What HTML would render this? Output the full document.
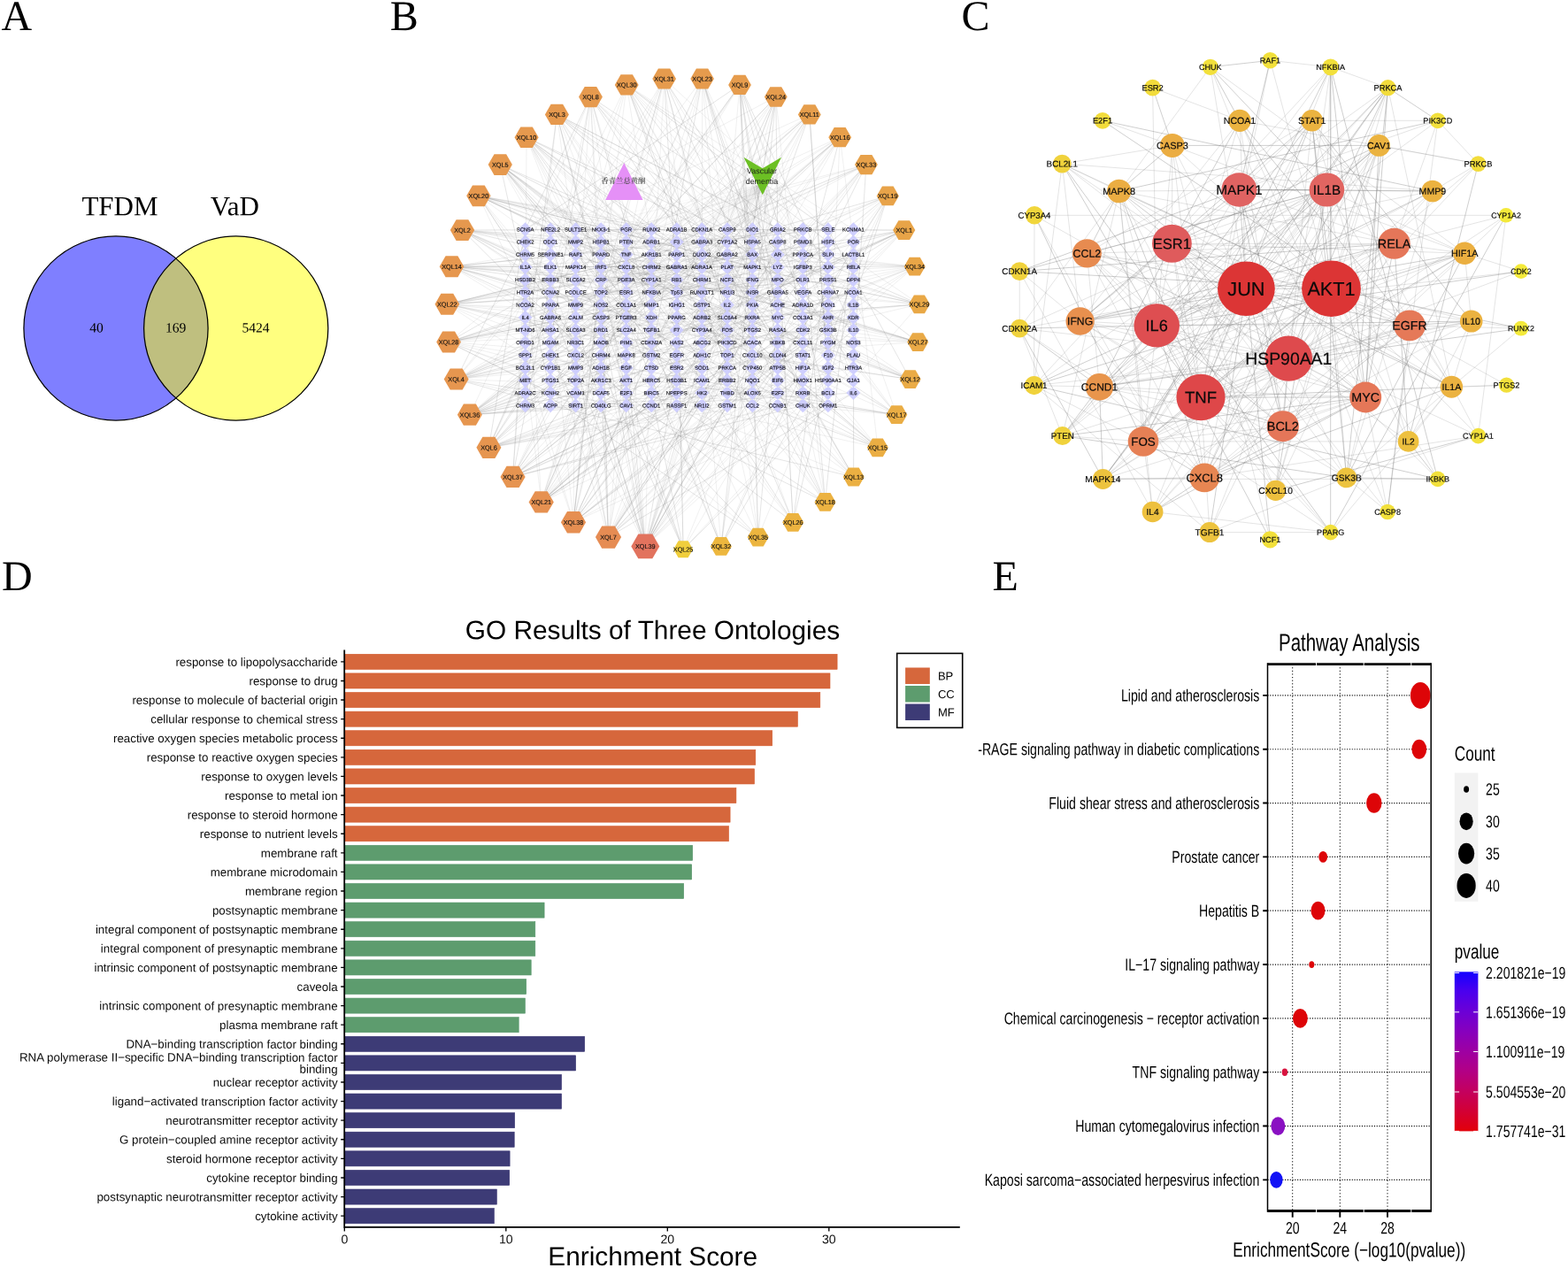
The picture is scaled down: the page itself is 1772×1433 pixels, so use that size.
<!DOCTYPE html>
<html lang="en"><head><meta charset="utf-8"><title>Figure</title>
<style>html,body{margin:0;padding:0;background:#fff}body{width:1772px;height:1433px;overflow:hidden}svg{display:block}text{white-space:pre}</style></head>
<body>
<svg width="1772" height="1433" viewBox="0 0 1772 1433">
<rect width="1772" height="1433" fill="#fff"/>
<g id="venn">
<circle cx="131" cy="371" r="104.1" fill="#0000ff" fill-opacity="0.5" stroke="none"/>
<circle cx="266.7" cy="371" r="104.1" fill="#ffff00" fill-opacity="0.5" stroke="none"/>
<circle cx="131" cy="371" r="104.1" fill="none" stroke="#000" stroke-width="1.25"/>
<circle cx="266.7" cy="371" r="104.1" fill="none" stroke="#000" stroke-width="1.25"/>
<g font-family='"Liberation Serif", "Noto Serif CJK SC", serif' fill="#000" text-anchor="middle">
<text transform="rotate(0.04 135.5 243.3)" x="135.5" y="243.3" font-size="31">TFDM</text>
<text transform="rotate(0.04 265.3 243.3)" x="265.3" y="243.3" font-size="31">VaD</text>
<text transform="rotate(0.04 109 375.5)" x="109" y="375.5" font-size="15.6">40</text>
<text transform="rotate(0.04 198.7 375.5)" x="198.7" y="375.5" font-size="15.6">169</text>
<text transform="rotate(0.04 289 375.5)" x="289" y="375.5" font-size="15.6">5424</text>
</g></g>
<g id="netB">
<path fill="none" stroke="#909090" stroke-opacity="0.07" stroke-width="0.7" d="M861.8 208.0L622.1 259.3M861.8 208.0L650.6 259.3M861.8 208.0L736.2 259.3M861.8 208.0L764.7 259.3M861.8 208.0L821.8 259.3M861.8 208.0L907.3 259.3M861.8 208.0L935.8 259.3M861.8 208.0L964.4 259.3M861.8 208.0L593.6 273.5M861.8 208.0L650.6 273.5M861.8 208.0L679.2 273.5M861.8 208.0L707.7 273.5M861.8 208.0L764.7 273.5M861.8 208.0L821.8 273.5M861.8 208.0L907.3 273.5M861.8 208.0L622.1 287.7M861.8 208.0L736.2 287.7M861.8 208.0L764.7 287.7M861.8 208.0L793.2 287.7M861.8 208.0L821.8 287.7M861.8 208.0L850.3 287.7M861.8 208.0L878.8 287.7M861.8 208.0L907.3 287.7M861.8 208.0L593.6 301.9M861.8 208.0L650.6 301.9M861.8 208.0L850.3 301.9M861.8 208.0L878.8 301.9M861.8 208.0L935.8 301.9M861.8 208.0L964.4 301.9M861.8 208.0L593.6 316.2M861.8 208.0L622.1 316.2M861.8 208.0L679.2 316.2M861.8 208.0L707.7 316.2M861.8 208.0L764.7 316.2M861.8 208.0L850.3 316.2M861.8 208.0L878.8 316.2M861.8 208.0L907.3 316.2M861.8 208.0L935.8 316.2M861.8 208.0L593.6 330.4M861.8 208.0L622.1 330.4M861.8 208.0L707.7 330.4M861.8 208.0L736.2 330.4M861.8 208.0L764.7 330.4M861.8 208.0L821.8 330.4M861.8 208.0L907.3 330.4M861.8 208.0L707.7 344.6M861.8 208.0L736.2 344.6M861.8 208.0L764.7 344.6M861.8 208.0L793.2 344.6M861.8 208.0L821.8 344.6M861.8 208.0L850.3 344.6M861.8 208.0L878.8 344.6M861.8 208.0L935.8 344.6M861.8 208.0L622.1 358.8M861.8 208.0L650.6 358.8M861.8 208.0L764.7 358.8M861.8 208.0L850.3 358.8M861.8 208.0L964.4 358.8M861.8 208.0L622.1 373.0M861.8 208.0L650.6 373.0M861.8 208.0L707.7 373.0M861.8 208.0L764.7 373.0M861.8 208.0L821.8 373.0M861.8 208.0L878.8 373.0M861.8 208.0L593.6 387.2M861.8 208.0L622.1 387.2M861.8 208.0L793.2 387.2M861.8 208.0L878.8 387.2M861.8 208.0L935.8 387.2M861.8 208.0L622.1 401.5M861.8 208.0L650.6 401.5M861.8 208.0L707.7 401.5M861.8 208.0L736.2 401.5M861.8 208.0L793.2 401.5M861.8 208.0L964.4 401.5M861.8 208.0L622.1 415.7M861.8 208.0L650.6 415.7M861.8 208.0L707.7 415.7M861.8 208.0L793.2 415.7M861.8 208.0L878.8 415.7M861.8 208.0L907.3 415.7M861.8 208.0L935.8 415.7M861.8 208.0L593.6 429.9M861.8 208.0L679.2 429.9M861.8 208.0L707.7 429.9M861.8 208.0L764.7 429.9M861.8 208.0L793.2 429.9M861.8 208.0L821.8 429.9M861.8 208.0L907.3 429.9M861.8 208.0L707.7 444.1M861.8 208.0L736.2 444.1M861.8 208.0L764.7 444.1M861.8 208.0L793.2 444.1M861.8 208.0L907.3 444.1M861.8 208.0L593.6 458.3M861.8 208.0L622.1 458.3M861.8 208.0L707.7 458.3M861.8 208.0L736.2 458.3M861.8 208.0L764.7 458.3M861.8 208.0L793.2 458.3M861.8 208.0L850.3 458.3"/>
<path fill="none" stroke="#888888" stroke-opacity="0.19" stroke-width="0.7" d="M729.3 617.4L878.8 287.7M729.3 617.4L935.8 415.7M729.3 617.4L935.8 259.3M729.3 617.4L707.7 273.5M729.3 617.4L907.3 387.2M729.3 617.4L850.3 344.6M729.3 617.4L850.3 401.5M729.3 617.4L679.2 387.2M729.3 617.4L935.8 301.9M729.3 617.4L850.3 259.3M729.3 617.4L821.8 273.5M729.3 617.4L964.4 358.8M729.3 617.4L679.2 273.5M729.3 617.4L736.2 316.2M729.3 617.4L850.3 273.5M729.3 617.4L622.1 401.5M729.3 617.4L878.8 358.8M729.3 617.4L679.2 287.7M729.3 617.4L622.1 316.2M729.3 617.4L793.2 415.7M729.3 617.4L707.7 444.1M729.3 617.4L935.8 429.9M729.3 617.4L878.8 458.3M687.5 607.1L878.8 287.7M687.5 607.1L850.3 358.8M687.5 607.1L878.8 259.3M687.5 607.1L736.2 273.5M687.5 607.1L764.7 401.5M687.5 607.1L679.2 344.6M687.5 607.1L736.2 344.6M687.5 607.1L935.8 401.5M687.5 607.1L622.1 387.2M687.5 607.1L707.7 373.0M687.5 607.1L850.3 273.5M687.5 607.1L964.4 316.2M687.5 607.1L850.3 373.0M687.5 607.1L878.8 429.9M687.5 607.1L650.6 429.9M648.0 590.3L935.8 358.8M648.0 590.3L593.6 401.5M648.0 590.3L622.1 330.4M648.0 590.3L935.8 429.9M648.0 590.3L764.7 429.9M648.0 590.3L878.8 287.7M648.0 590.3L593.6 429.9M648.0 590.3L964.4 444.1M648.0 590.3L679.2 259.3M648.0 590.3L878.8 401.5M648.0 590.3L707.7 301.9M648.0 590.3L907.3 316.2M648.0 590.3L650.6 330.4M611.7 567.4L679.2 344.6M611.7 567.4L964.4 401.5M611.7 567.4L964.4 259.3M611.7 567.4L593.6 259.3M611.7 567.4L736.2 401.5M611.7 567.4L878.8 287.7M611.7 567.4L850.3 344.6M611.7 567.4L764.7 259.3M611.7 567.4L707.7 273.5M611.7 567.4L650.6 458.3M611.7 567.4L821.8 316.2M611.7 567.4L593.6 415.7M579.5 539.0L850.3 344.6M579.5 539.0L593.6 301.9M579.5 539.0L878.8 387.2M579.5 539.0L935.8 387.2M579.5 539.0L650.6 387.2M579.5 539.0L650.6 415.7M579.5 539.0L736.2 458.3M579.5 539.0L935.8 444.1M579.5 539.0L793.2 301.9M579.5 539.0L878.8 458.3M579.5 539.0L736.2 316.2M552.4 505.8L964.4 415.7M552.4 505.8L821.8 458.3M552.4 505.8L878.8 415.7M552.4 505.8L622.1 429.9M552.4 505.8L650.6 287.7M552.4 505.8L622.1 358.8M552.4 505.8L878.8 444.1M552.4 505.8L850.3 301.9M552.4 505.8L964.4 358.8M552.4 505.8L764.7 458.3M552.4 505.8L821.8 415.7M552.4 505.8L850.3 458.3M530.9 468.7L793.2 301.9M530.9 468.7L821.8 316.2M530.9 468.7L707.7 330.4M530.9 468.7L650.6 387.2M530.9 468.7L878.8 316.2M530.9 468.7L964.4 387.2M530.9 468.7L736.2 287.7M530.9 468.7L622.1 273.5M530.9 468.7L764.7 344.6M515.6 428.6L650.6 458.3M515.6 428.6L964.4 273.5M515.6 428.6L679.2 401.5M515.6 428.6L793.2 316.2M515.6 428.6L764.7 301.9M515.6 428.6L593.6 330.4M515.6 428.6L679.2 373.0M515.6 428.6L793.2 259.3M515.6 428.6L935.8 444.1M515.6 428.6L650.6 273.5M515.6 428.6L622.1 373.0M515.6 428.6L650.6 415.7M507.0 386.6L679.2 429.9M507.0 386.6L707.7 458.3M507.0 386.6L907.3 287.7M507.0 386.6L622.1 444.1M507.0 386.6L878.8 415.7M507.0 386.6L622.1 429.9M507.0 386.6L850.3 344.6M507.0 386.6L821.8 287.7M507.0 386.6L821.8 316.2M507.0 386.6L793.2 373.0M507.0 386.6L593.6 316.2M507.0 386.6L850.3 444.1M507.0 386.6L679.2 358.8M505.3 343.8L736.2 458.3M505.3 343.8L650.6 316.2M505.3 343.8L935.8 273.5M505.3 343.8L907.3 316.2M505.3 343.8L878.8 259.3M505.3 343.8L679.2 458.3M505.3 343.8L707.7 301.9M505.3 343.8L907.3 444.1M505.3 343.8L878.8 358.8M505.3 343.8L736.2 429.9M505.3 343.8L878.8 316.2M505.3 343.8L736.2 358.8M505.3 343.8L907.3 387.2M510.5 301.2L821.8 387.2M510.5 301.2L593.6 287.7M510.5 301.2L964.4 287.7M510.5 301.2L907.3 316.2M510.5 301.2L707.7 301.9M510.5 301.2L850.3 301.9M510.5 301.2L850.3 330.4M510.5 301.2L935.8 444.1M510.5 301.2L650.6 373.0M510.5 301.2L650.6 387.2M522.5 260.1L650.6 316.2M522.5 260.1L821.8 301.9M522.5 260.1L935.8 429.9M522.5 260.1L821.8 415.7M522.5 260.1L736.2 358.8M522.5 260.1L707.7 344.6M522.5 260.1L964.4 259.3M522.5 260.1L736.2 287.7M522.5 260.1L679.2 259.3M522.5 260.1L707.7 273.5M522.5 260.1L793.2 444.1M522.5 260.1L850.3 316.2M522.5 260.1L964.4 287.7M540.9 221.3L707.7 301.9M540.9 221.3L593.6 259.3M540.9 221.3L622.1 344.6M540.9 221.3L964.4 344.6M540.9 221.3L793.2 273.5M540.9 221.3L850.3 373.0M540.9 221.3L622.1 330.4M540.9 221.3L679.2 387.2M540.9 221.3L650.6 458.3M540.9 221.3L850.3 273.5M540.9 221.3L821.8 287.7M565.3 186.1L907.3 358.8M565.3 186.1L736.2 444.1M565.3 186.1L907.3 429.9M565.3 186.1L907.3 458.3M565.3 186.1L679.2 387.2M565.3 186.1L821.8 387.2M565.3 186.1L850.3 458.3M565.3 186.1L707.7 259.3M565.3 186.1L821.8 458.3M595.0 155.2L593.6 429.9M595.0 155.2L821.8 387.2M595.0 155.2L650.6 273.5M595.0 155.2L907.3 458.3M595.0 155.2L736.2 273.5M595.0 155.2L907.3 316.2M595.0 155.2L707.7 444.1M595.0 155.2L907.3 444.1M595.0 155.2L878.8 301.9M595.0 155.2L679.2 316.2M629.4 129.4L907.3 273.5M629.4 129.4L850.3 429.9M629.4 129.4L707.7 330.4M629.4 129.4L964.4 429.9M629.4 129.4L764.7 387.2M629.4 129.4L764.7 373.0M629.4 129.4L793.2 373.0M629.4 129.4L593.6 458.3M629.4 129.4L650.6 287.7M629.4 129.4L850.3 301.9M667.4 109.5L707.7 387.2M667.4 109.5L622.1 330.4M667.4 109.5L593.6 287.7M667.4 109.5L935.8 429.9M667.4 109.5L679.2 316.2M667.4 109.5L650.6 358.8M667.4 109.5L964.4 373.0M667.4 109.5L764.7 429.9M667.4 109.5L679.2 373.0M708.2 95.9L878.8 401.5M708.2 95.9L736.2 273.5M708.2 95.9L907.3 444.1M708.2 95.9L593.6 330.4M708.2 95.9L622.1 330.4M708.2 95.9L964.4 259.3M708.2 95.9L622.1 429.9M708.2 95.9L679.2 330.4M708.2 95.9L878.8 287.7M708.2 95.9L935.8 316.2M750.6 89.1L935.8 373.0M750.6 89.1L935.8 259.3M750.6 89.1L593.6 401.5M750.6 89.1L707.7 287.7M750.6 89.1L622.1 301.9M750.6 89.1L821.8 373.0M750.6 89.1L679.2 344.6M750.6 89.1L650.6 330.4M750.6 89.1L793.2 444.1M750.6 89.1L964.4 415.7M750.6 89.1L878.8 316.2M750.6 89.1L736.2 358.8M793.6 89.1L679.2 344.6M793.6 89.1L650.6 401.5M793.6 89.1L850.3 273.5M793.6 89.1L907.3 330.4M793.6 89.1L736.2 316.2M793.6 89.1L878.8 316.2M793.6 89.1L907.3 458.3M793.6 89.1L736.2 259.3M793.6 89.1L850.3 444.1M793.6 89.1L793.2 358.8M793.6 89.1L593.6 358.8M793.6 89.1L821.8 444.1M836.0 95.9L736.2 259.3M836.0 95.9L707.7 287.7M836.0 95.9L821.8 259.3M836.0 95.9L964.4 429.9M836.0 95.9L964.4 444.1M836.0 95.9L850.3 373.0M836.0 95.9L650.6 358.8M876.8 109.5L650.6 458.3M876.8 109.5L593.6 259.3M876.8 109.5L707.7 458.3M876.8 109.5L679.2 316.2M876.8 109.5L736.2 401.5M876.8 109.5L907.3 415.7M876.8 109.5L622.1 444.1M876.8 109.5L764.7 415.7M876.8 109.5L821.8 316.2M876.8 109.5L821.8 415.7M914.8 129.4L707.7 316.2M914.8 129.4L593.6 401.5M914.8 129.4L793.2 316.2M914.8 129.4L793.2 259.3M914.8 129.4L793.2 358.8M914.8 129.4L821.8 330.4M914.8 129.4L593.6 273.5M914.8 129.4L736.2 259.3M914.8 129.4L793.2 301.9M914.8 129.4L707.7 429.9M949.2 155.2L593.6 387.2M949.2 155.2L850.3 301.9M949.2 155.2L850.3 330.4M949.2 155.2L679.2 316.2M949.2 155.2L793.2 373.0M949.2 155.2L593.6 316.2M949.2 155.2L935.8 444.1M949.2 155.2L736.2 330.4M949.2 155.2L964.4 273.5M949.2 155.2L736.2 415.7M978.9 186.1L736.2 444.1M978.9 186.1L593.6 287.7M978.9 186.1L764.7 273.5M978.9 186.1L593.6 301.9M978.9 186.1L593.6 344.6M978.9 186.1L764.7 301.9M978.9 186.1L736.2 301.9M978.9 186.1L821.8 387.2M978.9 186.1L793.2 373.0M978.9 186.1L821.8 259.3M1003.3 221.4L935.8 358.8M1003.3 221.4L935.8 259.3M1003.3 221.4L850.3 373.0M1003.3 221.4L821.8 301.9M1003.3 221.4L907.3 344.6M1003.3 221.4L650.6 373.0M1003.3 221.4L793.2 301.9M1003.3 221.4L935.8 330.4M1021.7 260.1L964.4 316.2M1021.7 260.1L907.3 259.3M1021.7 260.1L850.3 444.1M1021.7 260.1L821.8 429.9M1033.7 301.2L622.1 387.2M1033.7 301.2L650.6 259.3M1033.7 301.2L850.3 458.3M1033.7 301.2L793.2 444.1M1033.7 301.2L793.2 330.4M1033.7 301.2L850.3 429.9M1033.7 301.2L878.8 287.7M1033.7 301.2L622.1 415.7M1033.7 301.2L707.7 316.2M1033.7 301.2L964.4 330.4M1038.9 343.8L935.8 273.5M1038.9 343.8L707.7 273.5M1038.9 343.8L736.2 415.7M1038.9 343.8L793.2 273.5M1038.9 343.8L622.1 387.2M1038.9 343.8L964.4 429.9M1038.9 343.8L650.6 373.0M1038.9 343.8L650.6 301.9M1038.9 343.8L679.2 316.2M1037.2 386.6L593.6 373.0M1037.2 386.6L793.2 316.2M1037.2 386.6L736.2 301.9M1037.2 386.6L707.7 316.2M1037.2 386.6L907.3 287.7M1037.2 386.6L650.6 330.4M1037.2 386.6L821.8 401.5M1037.2 386.6L964.4 330.4M1037.2 386.6L650.6 273.5M1037.2 386.6L679.2 358.8M1028.6 428.6L736.2 330.4M1028.6 428.6L679.2 316.2M1028.6 428.6L764.7 301.9M1028.6 428.6L964.4 401.5M1028.6 428.6L793.2 301.9M1028.6 428.6L736.2 273.5M1028.6 428.6L907.3 344.6M1028.6 428.6L736.2 387.2M1028.6 428.6L679.2 301.9M1013.3 468.7L964.4 401.5M1013.3 468.7L736.2 444.1M1013.3 468.7L878.8 301.9M1013.3 468.7L935.8 458.3M1013.3 468.7L650.6 259.3M1013.3 468.7L964.4 330.4M1013.3 468.7L764.7 358.8M1013.3 468.7L907.3 344.6M1013.3 468.7L736.2 301.9M991.8 505.8L650.6 429.9M991.8 505.8L821.8 330.4M991.8 505.8L964.4 259.3M991.8 505.8L850.3 330.4M991.8 505.8L736.2 401.5M991.8 505.8L707.7 259.3M964.7 539.0L736.2 373.0M964.7 539.0L964.4 287.7M964.7 539.0L736.2 287.7M964.7 539.0L679.2 259.3M964.7 539.0L964.4 259.3M964.7 539.0L622.1 401.5M964.7 539.0L878.8 415.7M964.7 539.0L878.8 458.3M932.5 567.4L878.8 458.3M932.5 567.4L707.7 287.7M932.5 567.4L907.3 373.0M932.5 567.4L878.8 330.4M932.5 567.4L821.8 415.7M896.2 590.3L707.7 358.8M896.2 590.3L679.2 287.7M896.2 590.3L878.8 287.7M896.2 590.3L793.2 316.2M856.7 607.1L764.7 415.7M856.7 607.1L679.2 458.3M856.7 607.1L821.8 330.4M856.7 607.1L935.8 415.7M856.7 607.1L850.3 401.5M856.7 607.1L793.2 316.2M814.9 617.4L850.3 373.0M814.9 617.4L964.4 273.5M814.9 617.4L679.2 273.5M814.9 617.4L793.2 344.6M814.9 617.4L850.3 344.6M772.1 620.8L935.8 344.6M772.1 620.8L964.4 415.7M772.1 620.8L764.7 287.7M772.1 620.8L850.3 429.9"/>
<path fill="none" stroke="#7a7a7a" stroke-opacity="0.28" stroke-width="0.7" d="M729.3 617.4L935.8 330.4M729.3 617.4L679.2 358.8M729.3 617.4L878.8 273.5M729.3 617.4L593.6 273.5M729.3 617.4L850.3 358.8M729.3 617.4L622.1 273.5M729.3 617.4L707.7 401.5M729.3 617.4L764.7 415.7M729.3 617.4L679.2 458.3M729.3 617.4L793.2 401.5M729.3 617.4L821.8 458.3M687.5 607.1L964.4 373.0M687.5 607.1L679.2 429.9M687.5 607.1L964.4 444.1M687.5 607.1L650.6 401.5M687.5 607.1L878.8 330.4M687.5 607.1L850.3 429.9M687.5 607.1L821.8 401.5M687.5 607.1L679.2 273.5M648.0 590.3L821.8 358.8M648.0 590.3L793.2 344.6M648.0 590.3L964.4 344.6M648.0 590.3L679.2 316.2M648.0 590.3L793.2 273.5M648.0 590.3L679.2 301.9M648.0 590.3L679.2 458.3M648.0 590.3L707.7 458.3M648.0 590.3L935.8 373.0M611.7 567.4L935.8 273.5M611.7 567.4L907.3 387.2M611.7 567.4L907.3 273.5M611.7 567.4L679.2 415.7M611.7 567.4L907.3 301.9M611.7 567.4L935.8 344.6M611.7 567.4L764.7 458.3M611.7 567.4L821.8 415.7M611.7 567.4L707.7 344.6M611.7 567.4L679.2 458.3M579.5 539.0L764.7 387.2M579.5 539.0L793.2 344.6M579.5 539.0L622.1 458.3M579.5 539.0L622.1 316.2M579.5 539.0L679.2 458.3M579.5 539.0L593.6 344.6M579.5 539.0L821.8 415.7M579.5 539.0L907.3 458.3M579.5 539.0L707.7 358.8M579.5 539.0L793.2 444.1M552.4 505.8L593.6 259.3M552.4 505.8L878.8 373.0M552.4 505.8L707.7 344.6M552.4 505.8L793.2 273.5M552.4 505.8L707.7 458.3M552.4 505.8L593.6 444.1M552.4 505.8L679.2 301.9M552.4 505.8L622.1 344.6M552.4 505.8L821.8 273.5M530.9 468.7L850.3 444.1M530.9 468.7L793.2 287.7M530.9 468.7L964.4 358.8M530.9 468.7L935.8 301.9M530.9 468.7L793.2 259.3M530.9 468.7L736.2 316.2M530.9 468.7L964.4 444.1M530.9 468.7L878.8 401.5M530.9 468.7L964.4 330.4M530.9 468.7L850.3 358.8M530.9 468.7L793.2 444.1M515.6 428.6L907.3 373.0M515.6 428.6L707.7 458.3M515.6 428.6L593.6 273.5M515.6 428.6L878.8 259.3M515.6 428.6L622.1 458.3M515.6 428.6L907.3 273.5M515.6 428.6L679.2 387.2M515.6 428.6L964.4 330.4M507.0 386.6L935.8 301.9M507.0 386.6L793.2 330.4M507.0 386.6L679.2 287.7M507.0 386.6L650.6 458.3M507.0 386.6L793.2 287.7M507.0 386.6L878.8 273.5M505.3 343.8L793.2 273.5M505.3 343.8L964.4 316.2M505.3 343.8L736.2 287.7M505.3 343.8L878.8 287.7M505.3 343.8L736.2 387.2M505.3 343.8L764.7 401.5M510.5 301.2L907.3 259.3M510.5 301.2L964.4 429.9M510.5 301.2L736.2 316.2M510.5 301.2L935.8 259.3M510.5 301.2L764.7 415.7M510.5 301.2L821.8 330.4M510.5 301.2L850.3 387.2M510.5 301.2L878.8 301.9M510.5 301.2L707.7 330.4M522.5 260.1L679.2 344.6M522.5 260.1L707.7 444.1M522.5 260.1L793.2 287.7M522.5 260.1L764.7 415.7M522.5 260.1L935.8 358.8M540.9 221.3L650.6 387.2M540.9 221.3L964.4 415.7M540.9 221.3L850.3 301.9M540.9 221.3L793.2 316.2M540.9 221.3L622.1 259.3M540.9 221.3L907.3 316.2M540.9 221.3L821.8 273.5M565.3 186.1L622.1 444.1M565.3 186.1L736.2 387.2M565.3 186.1L764.7 415.7M565.3 186.1L793.2 287.7M565.3 186.1L878.8 444.1M565.3 186.1L736.2 401.5M565.3 186.1L935.8 458.3M565.3 186.1L793.2 429.9M565.3 186.1L850.3 401.5M595.0 155.2L907.3 387.2M595.0 155.2L850.3 273.5M595.0 155.2L821.8 444.1M595.0 155.2L764.7 444.1M595.0 155.2L850.3 373.0M595.0 155.2L821.8 316.2M595.0 155.2L707.7 316.2M629.4 129.4L935.8 316.2M629.4 129.4L707.7 429.9M629.4 129.4L964.4 301.9M629.4 129.4L964.4 373.0M629.4 129.4L679.2 330.4M629.4 129.4L593.6 401.5M629.4 129.4L850.3 330.4M667.4 109.5L850.3 344.6M667.4 109.5L622.1 387.2M667.4 109.5L935.8 373.0M667.4 109.5L764.7 259.3M667.4 109.5L935.8 287.7M667.4 109.5L593.6 259.3M667.4 109.5L736.2 358.8M708.2 95.9L821.8 344.6M708.2 95.9L907.3 358.8M708.2 95.9L935.8 259.3M708.2 95.9L935.8 273.5M708.2 95.9L821.8 415.7M708.2 95.9L793.2 316.2M750.6 89.1L679.2 330.4M750.6 89.1L821.8 358.8M750.6 89.1L764.7 330.4M750.6 89.1L850.3 316.2M793.6 89.1L878.8 344.6M793.6 89.1L736.2 401.5M793.6 89.1L850.3 301.9M836.0 95.9L850.3 330.4M836.0 95.9L935.8 458.3M836.0 95.9L878.8 358.8M836.0 95.9L850.3 458.3M836.0 95.9L878.8 401.5M836.0 95.9L964.4 373.0M836.0 95.9L593.6 259.3M836.0 95.9L707.7 273.5M876.8 109.5L878.8 259.3M876.8 109.5L707.7 287.7M876.8 109.5L850.3 259.3M876.8 109.5L793.2 330.4M876.8 109.5L850.3 387.2M914.8 129.4L821.8 387.2M914.8 129.4L935.8 429.9M914.8 129.4L935.8 415.7M914.8 129.4L622.1 387.2M949.2 155.2L593.6 458.3M949.2 155.2L793.2 301.9M949.2 155.2L907.3 316.2M949.2 155.2L650.6 415.7M978.9 186.1L878.8 330.4M978.9 186.1L964.4 415.7M978.9 186.1L850.3 444.1M978.9 186.1L850.3 330.4M1003.3 221.4L850.3 458.3M1003.3 221.4L821.8 273.5M1003.3 221.4L935.8 429.9M1003.3 221.4L935.8 387.2M1003.3 221.4L850.3 344.6M1021.7 260.1L821.8 344.6M1021.7 260.1L622.1 344.6M1021.7 260.1L679.2 415.7M1021.7 260.1L907.3 316.2M1021.7 260.1L622.1 444.1M1021.7 260.1L907.3 330.4M1021.7 260.1L593.6 330.4M1021.7 260.1L764.7 330.4M1021.7 260.1L593.6 259.3M1033.7 301.2L736.2 287.7M1033.7 301.2L707.7 301.9M1033.7 301.2L622.1 458.3M1038.9 343.8L907.3 316.2M1038.9 343.8L907.3 301.9M1038.9 343.8L878.8 273.5M1038.9 343.8L850.3 358.8M1037.2 386.6L764.7 316.2M1037.2 386.6L764.7 301.9M1028.6 428.6L650.6 287.7M1028.6 428.6L935.8 259.3M1028.6 428.6L850.3 401.5M1013.3 468.7L935.8 415.7M1013.3 468.7L736.2 429.9M1013.3 468.7L707.7 415.7M991.8 505.8L764.7 358.8M991.8 505.8L650.6 330.4M991.8 505.8L821.8 358.8M991.8 505.8L821.8 444.1M991.8 505.8L793.2 344.6M964.7 539.0L850.3 344.6M964.7 539.0L622.1 458.3M964.7 539.0L821.8 287.7M932.5 567.4L764.7 458.3M932.5 567.4L821.8 301.9M932.5 567.4L793.2 330.4M932.5 567.4L907.3 259.3M932.5 567.4L964.4 259.3M932.5 567.4L622.1 415.7M896.2 590.3L964.4 301.9M896.2 590.3L878.8 259.3M896.2 590.3L764.7 387.2M896.2 590.3L935.8 287.7M896.2 590.3L593.6 358.8M896.2 590.3L793.2 344.6M856.7 607.1L850.3 358.8M856.7 607.1L878.8 358.8M856.7 607.1L622.1 358.8M856.7 607.1L593.6 429.9M814.9 617.4L907.3 458.3M814.9 617.4L707.7 358.8M814.9 617.4L707.7 287.7M814.9 617.4L935.8 358.8M814.9 617.4L850.3 273.5M772.1 620.8L707.7 458.3M772.1 620.8L764.7 259.3M772.1 620.8L650.6 273.5M772.1 620.8L679.2 415.7M772.1 620.8L736.2 444.1M772.1 620.8L935.8 458.3"/>
<path fill="#ccccff" fill-opacity="0.95" d="M593.6 251.3l8 8l-8 8l-8 -8zM622.1 251.3l8 8l-8 8l-8 -8zM650.6 251.3l8 8l-8 8l-8 -8zM679.2 251.3l8 8l-8 8l-8 -8zM707.7 251.3l8 8l-8 8l-8 -8zM736.2 251.3l8 8l-8 8l-8 -8zM764.7 251.3l8 8l-8 8l-8 -8zM793.2 251.3l8 8l-8 8l-8 -8zM821.8 251.3l8 8l-8 8l-8 -8zM850.3 251.3l8 8l-8 8l-8 -8zM878.8 251.3l8 8l-8 8l-8 -8zM907.3 251.3l8 8l-8 8l-8 -8zM935.8 251.3l8 8l-8 8l-8 -8zM964.4 251.3l8 8l-8 8l-8 -8zM593.6 265.5l8 8l-8 8l-8 -8zM622.1 265.5l8 8l-8 8l-8 -8zM650.6 265.5l8 8l-8 8l-8 -8zM679.2 265.5l8 8l-8 8l-8 -8zM707.7 265.5l8 8l-8 8l-8 -8zM736.2 265.5l8 8l-8 8l-8 -8zM764.7 265.5l8 8l-8 8l-8 -8zM793.2 265.5l8 8l-8 8l-8 -8zM821.8 265.5l8 8l-8 8l-8 -8zM850.3 265.5l8 8l-8 8l-8 -8zM878.8 265.5l8 8l-8 8l-8 -8zM907.3 265.5l8 8l-8 8l-8 -8zM935.8 265.5l8 8l-8 8l-8 -8zM964.4 265.5l8 8l-8 8l-8 -8zM593.6 279.7l8 8l-8 8l-8 -8zM622.1 279.7l8 8l-8 8l-8 -8zM650.6 279.7l8 8l-8 8l-8 -8zM679.2 279.7l8 8l-8 8l-8 -8zM707.7 279.7l8 8l-8 8l-8 -8zM736.2 279.7l8 8l-8 8l-8 -8zM764.7 279.7l8 8l-8 8l-8 -8zM793.2 279.7l8 8l-8 8l-8 -8zM821.8 279.7l8 8l-8 8l-8 -8zM850.3 279.7l8 8l-8 8l-8 -8zM878.8 279.7l8 8l-8 8l-8 -8zM907.3 279.7l8 8l-8 8l-8 -8zM935.8 279.7l8 8l-8 8l-8 -8zM964.4 279.7l8 8l-8 8l-8 -8zM593.6 293.9l8 8l-8 8l-8 -8zM622.1 293.9l8 8l-8 8l-8 -8zM650.6 293.9l8 8l-8 8l-8 -8zM679.2 293.9l8 8l-8 8l-8 -8zM707.7 293.9l8 8l-8 8l-8 -8zM736.2 293.9l8 8l-8 8l-8 -8zM764.7 293.9l8 8l-8 8l-8 -8zM793.2 293.9l8 8l-8 8l-8 -8zM821.8 293.9l8 8l-8 8l-8 -8zM850.3 293.9l8 8l-8 8l-8 -8zM878.8 293.9l8 8l-8 8l-8 -8zM907.3 293.9l8 8l-8 8l-8 -8zM935.8 293.9l8 8l-8 8l-8 -8zM964.4 293.9l8 8l-8 8l-8 -8zM593.6 308.2l8 8l-8 8l-8 -8zM622.1 308.2l8 8l-8 8l-8 -8zM650.6 308.2l8 8l-8 8l-8 -8zM679.2 308.2l8 8l-8 8l-8 -8zM707.7 308.2l8 8l-8 8l-8 -8zM736.2 308.2l8 8l-8 8l-8 -8zM764.7 308.2l8 8l-8 8l-8 -8zM793.2 308.2l8 8l-8 8l-8 -8zM821.8 308.2l8 8l-8 8l-8 -8zM850.3 308.2l8 8l-8 8l-8 -8zM878.8 308.2l8 8l-8 8l-8 -8zM907.3 308.2l8 8l-8 8l-8 -8zM935.8 308.2l8 8l-8 8l-8 -8zM964.4 308.2l8 8l-8 8l-8 -8zM593.6 322.4l8 8l-8 8l-8 -8zM622.1 322.4l8 8l-8 8l-8 -8zM650.6 322.4l8 8l-8 8l-8 -8zM679.2 322.4l8 8l-8 8l-8 -8zM707.7 322.4l8 8l-8 8l-8 -8zM736.2 322.4l8 8l-8 8l-8 -8zM764.7 322.4l8 8l-8 8l-8 -8zM793.2 322.4l8 8l-8 8l-8 -8zM821.8 322.4l8 8l-8 8l-8 -8zM850.3 322.4l8 8l-8 8l-8 -8zM878.8 322.4l8 8l-8 8l-8 -8zM907.3 322.4l8 8l-8 8l-8 -8zM935.8 322.4l8 8l-8 8l-8 -8zM964.4 322.4l8 8l-8 8l-8 -8zM593.6 336.6l8 8l-8 8l-8 -8zM622.1 336.6l8 8l-8 8l-8 -8zM650.6 336.6l8 8l-8 8l-8 -8zM679.2 336.6l8 8l-8 8l-8 -8zM707.7 336.6l8 8l-8 8l-8 -8zM736.2 336.6l8 8l-8 8l-8 -8zM764.7 336.6l8 8l-8 8l-8 -8zM793.2 336.6l8 8l-8 8l-8 -8zM821.8 336.6l8 8l-8 8l-8 -8zM850.3 336.6l8 8l-8 8l-8 -8zM878.8 336.6l8 8l-8 8l-8 -8zM907.3 336.6l8 8l-8 8l-8 -8zM935.8 336.6l8 8l-8 8l-8 -8zM964.4 336.6l8 8l-8 8l-8 -8zM593.6 350.8l8 8l-8 8l-8 -8zM622.1 350.8l8 8l-8 8l-8 -8zM650.6 350.8l8 8l-8 8l-8 -8zM679.2 350.8l8 8l-8 8l-8 -8zM707.7 350.8l8 8l-8 8l-8 -8zM736.2 350.8l8 8l-8 8l-8 -8zM764.7 350.8l8 8l-8 8l-8 -8zM793.2 350.8l8 8l-8 8l-8 -8zM821.8 350.8l8 8l-8 8l-8 -8zM850.3 350.8l8 8l-8 8l-8 -8zM878.8 350.8l8 8l-8 8l-8 -8zM907.3 350.8l8 8l-8 8l-8 -8zM935.8 350.8l8 8l-8 8l-8 -8zM964.4 350.8l8 8l-8 8l-8 -8zM593.6 365.0l8 8l-8 8l-8 -8zM622.1 365.0l8 8l-8 8l-8 -8zM650.6 365.0l8 8l-8 8l-8 -8zM679.2 365.0l8 8l-8 8l-8 -8zM707.7 365.0l8 8l-8 8l-8 -8zM736.2 365.0l8 8l-8 8l-8 -8zM764.7 365.0l8 8l-8 8l-8 -8zM793.2 365.0l8 8l-8 8l-8 -8zM821.8 365.0l8 8l-8 8l-8 -8zM850.3 365.0l8 8l-8 8l-8 -8zM878.8 365.0l8 8l-8 8l-8 -8zM907.3 365.0l8 8l-8 8l-8 -8zM935.8 365.0l8 8l-8 8l-8 -8zM964.4 365.0l8 8l-8 8l-8 -8zM593.6 379.2l8 8l-8 8l-8 -8zM622.1 379.2l8 8l-8 8l-8 -8zM650.6 379.2l8 8l-8 8l-8 -8zM679.2 379.2l8 8l-8 8l-8 -8zM707.7 379.2l8 8l-8 8l-8 -8zM736.2 379.2l8 8l-8 8l-8 -8zM764.7 379.2l8 8l-8 8l-8 -8zM793.2 379.2l8 8l-8 8l-8 -8zM821.8 379.2l8 8l-8 8l-8 -8zM850.3 379.2l8 8l-8 8l-8 -8zM878.8 379.2l8 8l-8 8l-8 -8zM907.3 379.2l8 8l-8 8l-8 -8zM935.8 379.2l8 8l-8 8l-8 -8zM964.4 379.2l8 8l-8 8l-8 -8zM593.6 393.5l8 8l-8 8l-8 -8zM622.1 393.5l8 8l-8 8l-8 -8zM650.6 393.5l8 8l-8 8l-8 -8zM679.2 393.5l8 8l-8 8l-8 -8zM707.7 393.5l8 8l-8 8l-8 -8zM736.2 393.5l8 8l-8 8l-8 -8zM764.7 393.5l8 8l-8 8l-8 -8zM793.2 393.5l8 8l-8 8l-8 -8zM821.8 393.5l8 8l-8 8l-8 -8zM850.3 393.5l8 8l-8 8l-8 -8zM878.8 393.5l8 8l-8 8l-8 -8zM907.3 393.5l8 8l-8 8l-8 -8zM935.8 393.5l8 8l-8 8l-8 -8zM964.4 393.5l8 8l-8 8l-8 -8zM593.6 407.7l8 8l-8 8l-8 -8zM622.1 407.7l8 8l-8 8l-8 -8zM650.6 407.7l8 8l-8 8l-8 -8zM679.2 407.7l8 8l-8 8l-8 -8zM707.7 407.7l8 8l-8 8l-8 -8zM736.2 407.7l8 8l-8 8l-8 -8zM764.7 407.7l8 8l-8 8l-8 -8zM793.2 407.7l8 8l-8 8l-8 -8zM821.8 407.7l8 8l-8 8l-8 -8zM850.3 407.7l8 8l-8 8l-8 -8zM878.8 407.7l8 8l-8 8l-8 -8zM907.3 407.7l8 8l-8 8l-8 -8zM935.8 407.7l8 8l-8 8l-8 -8zM964.4 407.7l8 8l-8 8l-8 -8zM593.6 421.9l8 8l-8 8l-8 -8zM622.1 421.9l8 8l-8 8l-8 -8zM650.6 421.9l8 8l-8 8l-8 -8zM679.2 421.9l8 8l-8 8l-8 -8zM707.7 421.9l8 8l-8 8l-8 -8zM736.2 421.9l8 8l-8 8l-8 -8zM764.7 421.9l8 8l-8 8l-8 -8zM793.2 421.9l8 8l-8 8l-8 -8zM821.8 421.9l8 8l-8 8l-8 -8zM850.3 421.9l8 8l-8 8l-8 -8zM878.8 421.9l8 8l-8 8l-8 -8zM907.3 421.9l8 8l-8 8l-8 -8zM935.8 421.9l8 8l-8 8l-8 -8zM964.4 421.9l8 8l-8 8l-8 -8zM593.6 436.1l8 8l-8 8l-8 -8zM622.1 436.1l8 8l-8 8l-8 -8zM650.6 436.1l8 8l-8 8l-8 -8zM679.2 436.1l8 8l-8 8l-8 -8zM707.7 436.1l8 8l-8 8l-8 -8zM736.2 436.1l8 8l-8 8l-8 -8zM764.7 436.1l8 8l-8 8l-8 -8zM793.2 436.1l8 8l-8 8l-8 -8zM821.8 436.1l8 8l-8 8l-8 -8zM850.3 436.1l8 8l-8 8l-8 -8zM878.8 436.1l8 8l-8 8l-8 -8zM907.3 436.1l8 8l-8 8l-8 -8zM935.8 436.1l8 8l-8 8l-8 -8zM964.4 436.1l8 8l-8 8l-8 -8zM593.6 450.3l8 8l-8 8l-8 -8zM622.1 450.3l8 8l-8 8l-8 -8zM650.6 450.3l8 8l-8 8l-8 -8zM679.2 450.3l8 8l-8 8l-8 -8zM707.7 450.3l8 8l-8 8l-8 -8zM736.2 450.3l8 8l-8 8l-8 -8zM764.7 450.3l8 8l-8 8l-8 -8zM793.2 450.3l8 8l-8 8l-8 -8zM821.8 450.3l8 8l-8 8l-8 -8zM850.3 450.3l8 8l-8 8l-8 -8zM878.8 450.3l8 8l-8 8l-8 -8zM907.3 450.3l8 8l-8 8l-8 -8zM935.8 450.3l8 8l-8 8l-8 -8z"/>
<polygon points="705.3,184 726.6,226 684.2,226" fill="#e590f7"/>
<polygon points="840.5,177.8 861.8,190.3 883.1,177.8 861.8,220.3" fill="#6cc024"/>
<text transform="rotate(0.04 704.4 207.3)" x="704.4" y="207.3" font-family='"Liberation Serif", "Noto Serif CJK SC", serif' font-size="8.3" font-weight="600" fill="#4a4a4a" text-anchor="middle">香青兰总黄酮</text>
<g font-family='"Liberation Sans", "Noto Sans CJK SC", sans-serif' font-size="8.9" fill="#1c1c1c" text-anchor="middle">
<text transform="rotate(0.04 861.0 196.3)" x="861.0" y="196.3">Vascular</text><text transform="rotate(0.04 861.0 208.1)" x="861.0" y="208.1">dementia</text></g>
<polygon points="713.3,617.4 721.3,603.5 737.3,603.5 745.3,617.4 737.3,631.2 721.3,631.2" fill="#e2735e"/>
<polygon points="672.9,607.1 680.2,594.5 694.8,594.5 702.1,607.1 694.8,619.7 680.2,619.7" fill="#e68c53"/>
<polygon points="633.9,590.3 641.0,578.1 655.1,578.1 662.1,590.3 655.1,602.5 641.0,602.5" fill="#e68f52"/>
<polygon points="597.6,567.4 604.7,555.2 618.7,555.2 625.8,567.4 618.7,579.6 604.7,579.6" fill="#e69151"/>
<polygon points="565.5,539.0 572.5,526.8 586.6,526.8 593.6,539.0 586.6,551.1 572.5,551.1" fill="#e69450"/>
<polygon points="538.4,505.8 545.4,493.7 559.4,493.7 566.4,505.8 559.4,517.9 545.4,517.9" fill="#e6954f"/>
<polygon points="516.9,468.7 523.9,456.6 537.9,456.6 544.8,468.7 537.9,480.7 523.9,480.7" fill="#e6964f"/>
<polygon points="501.7,428.6 508.7,416.5 522.6,416.5 529.6,428.6 522.6,440.6 508.7,440.6" fill="#e6964f"/>
<polygon points="493.2,386.6 500.1,374.6 514.0,374.6 520.9,386.6 514.0,398.6 500.1,398.6" fill="#e6964f"/>
<polygon points="491.5,343.8 498.4,331.8 512.2,331.8 519.2,343.8 512.2,355.8 498.4,355.8" fill="#e6974e"/>
<polygon points="496.7,301.2 503.6,289.3 517.4,289.3 524.3,301.2 517.4,313.2 503.6,313.2" fill="#e6974e"/>
<polygon points="508.8,260.1 515.6,248.2 529.3,248.2 536.2,260.1 529.3,271.9 515.6,271.9" fill="#e6984e"/>
<polygon points="527.2,221.3 534.0,209.5 547.7,209.5 554.5,221.3 547.7,233.2 534.0,233.2" fill="#e6984e"/>
<polygon points="551.7,186.1 558.5,174.3 572.1,174.3 578.9,186.1 572.1,197.9 558.5,197.9" fill="#e6994e"/>
<polygon points="581.5,155.2 588.3,143.4 601.8,143.4 608.6,155.2 601.8,166.9 588.3,166.9" fill="#e6994e"/>
<polygon points="615.9,129.4 622.6,117.7 636.1,117.7 642.9,129.4 636.1,141.1 622.6,141.1" fill="#e6994e"/>
<polygon points="654.0,109.5 660.7,97.9 674.2,97.9 680.9,109.5 674.2,121.2 660.7,121.2" fill="#e69a4e"/>
<polygon points="694.8,95.9 701.5,84.3 714.9,84.3 721.6,95.9 714.9,107.5 701.5,107.5" fill="#e69a4d"/>
<polygon points="737.3,89.1 743.9,77.5 757.3,77.5 764.0,89.1 757.3,100.6 743.9,100.6" fill="#e69b4d"/>
<polygon points="780.3,89.1 786.9,77.5 800.2,77.5 806.9,89.1 800.2,100.6 786.9,100.6" fill="#e69b4d"/>
<polygon points="823.1,95.9 829.5,84.8 842.4,84.8 848.9,95.9 842.4,107.1 829.5,107.1" fill="#e69c4d"/>
<polygon points="863.9,109.5 870.3,98.3 883.2,98.3 889.7,109.5 883.2,120.7 870.3,120.7" fill="#e69c4d"/>
<polygon points="901.9,129.4 908.4,118.3 921.3,118.3 927.7,129.4 921.3,140.6 908.4,140.6" fill="#e69e4c"/>
<polygon points="936.3,155.2 942.7,144.0 955.6,144.0 962.1,155.2 955.6,166.3 942.7,166.3" fill="#e79f4b"/>
<polygon points="966.0,186.1 972.5,174.9 985.4,174.9 991.8,186.1 985.4,197.3 972.5,197.3" fill="#e7a14a"/>
<polygon points="990.7,221.4 997.0,210.4 1009.6,210.4 1015.9,221.4 1009.6,232.3 997.0,232.3" fill="#e8a349"/>
<polygon points="1009.1,260.1 1015.4,249.2 1028.0,249.2 1034.3,260.1 1028.0,271.0 1015.4,271.0" fill="#e8a448"/>
<polygon points="1021.7,301.2 1027.7,290.8 1039.7,290.8 1045.7,301.2 1039.7,311.6 1027.7,311.6" fill="#e9a647"/>
<polygon points="1026.9,343.8 1032.9,333.4 1044.9,333.4 1050.9,343.8 1044.9,354.2 1032.9,354.2" fill="#e9a846"/>
<polygon points="1025.2,386.6 1031.2,376.2 1043.2,376.2 1049.2,386.6 1043.2,397.0 1031.2,397.0" fill="#e9a946"/>
<polygon points="1016.6,428.6 1022.6,418.2 1034.6,418.2 1040.6,428.6 1034.6,439.0 1022.6,439.0" fill="#eaab45"/>
<polygon points="1001.3,468.7 1007.3,458.3 1019.3,458.3 1025.3,468.7 1019.3,479.1 1007.3,479.1" fill="#eaad44"/>
<polygon points="979.8,505.8 985.8,495.4 997.8,495.4 1003.8,505.8 997.8,516.2 985.8,516.2" fill="#ebae43"/>
<polygon points="952.7,539.0 958.7,528.6 970.7,528.6 976.7,539.0 970.7,549.4 958.7,549.4" fill="#ebb042"/>
<polygon points="920.5,567.4 926.5,557.0 938.5,557.0 944.5,567.4 938.5,577.8 926.5,577.8" fill="#ecb241"/>
<polygon points="884.2,590.3 890.2,579.9 902.2,579.9 908.2,590.3 902.2,600.7 890.2,600.7" fill="#ecb340"/>
<polygon points="844.7,607.1 850.7,596.7 862.7,596.7 868.7,607.1 862.7,617.5 850.7,617.5" fill="#ecb53f"/>
<polygon points="802.9,617.4 808.9,607.0 820.9,607.0 826.9,617.4 820.9,627.7 808.9,627.7" fill="#edb73e"/>
<polygon points="761.1,620.8 766.6,611.3 777.6,611.3 783.1,620.8 777.6,630.3 766.6,630.3" fill="#f0ce3c"/>
<g font-family='"Liberation Sans", "Noto Sans CJK SC", sans-serif' font-size="7.25" fill="#111" text-anchor="middle" stroke="#111" stroke-width="0.14">
<text transform="rotate(0.04 729.3 620.1)" x="729.3" y="620.1">XQL39</text>
<text transform="rotate(0.04 687.5 609.8)" x="687.5" y="609.8">XQL7</text>
<text transform="rotate(0.04 648.0 593.0)" x="648.0" y="593.0">XQL38</text>
<text transform="rotate(0.04 611.7 570.1)" x="611.7" y="570.1">XQL21</text>
<text transform="rotate(0.04 579.5 541.7)" x="579.5" y="541.7">XQL37</text>
<text transform="rotate(0.04 552.4 508.5)" x="552.4" y="508.5">XQL6</text>
<text transform="rotate(0.04 530.9 471.4)" x="530.9" y="471.4">XQL36</text>
<text transform="rotate(0.04 515.6 431.3)" x="515.6" y="431.3">XQL4</text>
<text transform="rotate(0.04 507.0 389.3)" x="507.0" y="389.3">XQL28</text>
<text transform="rotate(0.04 505.3 346.5)" x="505.3" y="346.5">XQL22</text>
<text transform="rotate(0.04 510.5 303.9)" x="510.5" y="303.9">XQL14</text>
<text transform="rotate(0.04 522.5 262.8)" x="522.5" y="262.8">XQL2</text>
<text transform="rotate(0.04 540.9 224.0)" x="540.9" y="224.0">XQL20</text>
<text transform="rotate(0.04 565.3 188.8)" x="565.3" y="188.8">XQL5</text>
<text transform="rotate(0.04 595.0 157.9)" x="595.0" y="157.9">XQL10</text>
<text transform="rotate(0.04 629.4 132.1)" x="629.4" y="132.1">XQL3</text>
<text transform="rotate(0.04 667.4 112.2)" x="667.4" y="112.2">XQL8</text>
<text transform="rotate(0.04 708.2 98.6)" x="708.2" y="98.6">XQL30</text>
<text transform="rotate(0.04 750.6 91.8)" x="750.6" y="91.8">XQL31</text>
<text transform="rotate(0.04 793.6 91.8)" x="793.6" y="91.8">XQL23</text>
<text transform="rotate(0.04 836.0 98.6)" x="836.0" y="98.6">XQL9</text>
<text transform="rotate(0.04 876.8 112.2)" x="876.8" y="112.2">XQL24</text>
<text transform="rotate(0.04 914.8 132.1)" x="914.8" y="132.1">XQL11</text>
<text transform="rotate(0.04 949.2 157.9)" x="949.2" y="157.9">XQL16</text>
<text transform="rotate(0.04 978.9 188.8)" x="978.9" y="188.8">XQL33</text>
<text transform="rotate(0.04 1003.3 224.1)" x="1003.3" y="224.1">XQL19</text>
<text transform="rotate(0.04 1021.7 262.8)" x="1021.7" y="262.8">XQL1</text>
<text transform="rotate(0.04 1033.7 303.9)" x="1033.7" y="303.9">XQL34</text>
<text transform="rotate(0.04 1038.9 346.5)" x="1038.9" y="346.5">XQL29</text>
<text transform="rotate(0.04 1037.2 389.3)" x="1037.2" y="389.3">XQL27</text>
<text transform="rotate(0.04 1028.6 431.3)" x="1028.6" y="431.3">XQL12</text>
<text transform="rotate(0.04 1013.3 471.4)" x="1013.3" y="471.4">XQL17</text>
<text transform="rotate(0.04 991.8 508.5)" x="991.8" y="508.5">XQL15</text>
<text transform="rotate(0.04 964.7 541.7)" x="964.7" y="541.7">XQL13</text>
<text transform="rotate(0.04 932.5 570.1)" x="932.5" y="570.1">XQL18</text>
<text transform="rotate(0.04 896.2 593.0)" x="896.2" y="593.0">XQL26</text>
<text transform="rotate(0.04 856.7 609.8)" x="856.7" y="609.8">XQL35</text>
<text transform="rotate(0.04 814.9 620.1)" x="814.9" y="620.1">XQL32</text>
<text transform="rotate(0.04 772.1 623.5)" x="772.1" y="623.5">XQL25</text>
</g>
<g font-family='"Liberation Sans", "Noto Sans CJK SC", sans-serif' font-size="5.95" fill="#0d0d12" text-anchor="middle" stroke="#0d0d12" stroke-width="0.13">
<text transform="rotate(0.04 593.6 261.4)" x="593.6" y="261.4">SCN5A</text>
<text transform="rotate(0.04 622.1 261.4)" x="622.1" y="261.4">NFE2L2</text>
<text transform="rotate(0.04 650.6 261.4)" x="650.6" y="261.4">SULT1E1</text>
<text transform="rotate(0.04 679.2 261.4)" x="679.2" y="261.4">NKX3-1</text>
<text transform="rotate(0.04 707.7 261.4)" x="707.7" y="261.4">PGR</text>
<text transform="rotate(0.04 736.2 261.4)" x="736.2" y="261.4">RUNX2</text>
<text transform="rotate(0.04 764.7 261.4)" x="764.7" y="261.4">ADRA1B</text>
<text transform="rotate(0.04 793.2 261.4)" x="793.2" y="261.4">CDKN1A</text>
<text transform="rotate(0.04 821.8 261.4)" x="821.8" y="261.4">CASP9</text>
<text transform="rotate(0.04 850.3 261.4)" x="850.3" y="261.4">DIO1</text>
<text transform="rotate(0.04 878.8 261.4)" x="878.8" y="261.4">GRIA2</text>
<text transform="rotate(0.04 907.3 261.4)" x="907.3" y="261.4">PRKCB</text>
<text transform="rotate(0.04 935.8 261.4)" x="935.8" y="261.4">SELE</text>
<text transform="rotate(0.04 964.4 261.4)" x="964.4" y="261.4">KCNMA1</text>
<text transform="rotate(0.04 593.6 275.6)" x="593.6" y="275.6">CHEK2</text>
<text transform="rotate(0.04 622.1 275.6)" x="622.1" y="275.6">ODC1</text>
<text transform="rotate(0.04 650.6 275.6)" x="650.6" y="275.6">MMP2</text>
<text transform="rotate(0.04 679.2 275.6)" x="679.2" y="275.6">HSPB1</text>
<text transform="rotate(0.04 707.7 275.6)" x="707.7" y="275.6">PTEN</text>
<text transform="rotate(0.04 736.2 275.6)" x="736.2" y="275.6">ADRB1</text>
<text transform="rotate(0.04 764.7 275.6)" x="764.7" y="275.6">F3</text>
<text transform="rotate(0.04 793.2 275.6)" x="793.2" y="275.6">GABRA3</text>
<text transform="rotate(0.04 821.8 275.6)" x="821.8" y="275.6">CYP1A2</text>
<text transform="rotate(0.04 850.3 275.6)" x="850.3" y="275.6">HSPA5</text>
<text transform="rotate(0.04 878.8 275.6)" x="878.8" y="275.6">CASP8</text>
<text transform="rotate(0.04 907.3 275.6)" x="907.3" y="275.6">PSMD3</text>
<text transform="rotate(0.04 935.8 275.6)" x="935.8" y="275.6">HSF1</text>
<text transform="rotate(0.04 964.4 275.6)" x="964.4" y="275.6">POR</text>
<text transform="rotate(0.04 593.6 289.8)" x="593.6" y="289.8">CHRM5</text>
<text transform="rotate(0.04 622.1 289.8)" x="622.1" y="289.8">SERPINE1</text>
<text transform="rotate(0.04 650.6 289.8)" x="650.6" y="289.8">RAF1</text>
<text transform="rotate(0.04 679.2 289.8)" x="679.2" y="289.8">PPARD</text>
<text transform="rotate(0.04 707.7 289.8)" x="707.7" y="289.8">TNF</text>
<text transform="rotate(0.04 736.2 289.8)" x="736.2" y="289.8">AKR1B1</text>
<text transform="rotate(0.04 764.7 289.8)" x="764.7" y="289.8">PARP1</text>
<text transform="rotate(0.04 793.2 289.8)" x="793.2" y="289.8">DUOX2</text>
<text transform="rotate(0.04 821.8 289.8)" x="821.8" y="289.8">GABRA2</text>
<text transform="rotate(0.04 850.3 289.8)" x="850.3" y="289.8">BAX</text>
<text transform="rotate(0.04 878.8 289.8)" x="878.8" y="289.8">AR</text>
<text transform="rotate(0.04 907.3 289.8)" x="907.3" y="289.8">PPP3CA</text>
<text transform="rotate(0.04 935.8 289.8)" x="935.8" y="289.8">SLPI</text>
<text transform="rotate(0.04 964.4 289.8)" x="964.4" y="289.8">LACTBL1</text>
<text transform="rotate(0.04 593.6 304.0)" x="593.6" y="304.0">IL1A</text>
<text transform="rotate(0.04 622.1 304.0)" x="622.1" y="304.0">ELK1</text>
<text transform="rotate(0.04 650.6 304.0)" x="650.6" y="304.0">MAPK14</text>
<text transform="rotate(0.04 679.2 304.0)" x="679.2" y="304.0">IRF1</text>
<text transform="rotate(0.04 707.7 304.0)" x="707.7" y="304.0">CXCL8</text>
<text transform="rotate(0.04 736.2 304.0)" x="736.2" y="304.0">CHRM2</text>
<text transform="rotate(0.04 764.7 304.0)" x="764.7" y="304.0">GABRA1</text>
<text transform="rotate(0.04 793.2 304.0)" x="793.2" y="304.0">ADRA1A</text>
<text transform="rotate(0.04 821.8 304.0)" x="821.8" y="304.0">PLAT</text>
<text transform="rotate(0.04 850.3 304.0)" x="850.3" y="304.0">MAPK1</text>
<text transform="rotate(0.04 878.8 304.0)" x="878.8" y="304.0">LYZ</text>
<text transform="rotate(0.04 907.3 304.0)" x="907.3" y="304.0">IGFBP3</text>
<text transform="rotate(0.04 935.8 304.0)" x="935.8" y="304.0">JUN</text>
<text transform="rotate(0.04 964.4 304.0)" x="964.4" y="304.0">RELA</text>
<text transform="rotate(0.04 593.6 318.3)" x="593.6" y="318.3">HSD3B2</text>
<text transform="rotate(0.04 622.1 318.3)" x="622.1" y="318.3">ERBB3</text>
<text transform="rotate(0.04 650.6 318.3)" x="650.6" y="318.3">SLC6A2</text>
<text transform="rotate(0.04 679.2 318.3)" x="679.2" y="318.3">CRP</text>
<text transform="rotate(0.04 707.7 318.3)" x="707.7" y="318.3">PDE3A</text>
<text transform="rotate(0.04 736.2 318.3)" x="736.2" y="318.3">CYP1A1</text>
<text transform="rotate(0.04 764.7 318.3)" x="764.7" y="318.3">RB1</text>
<text transform="rotate(0.04 793.2 318.3)" x="793.2" y="318.3">CHRM1</text>
<text transform="rotate(0.04 821.8 318.3)" x="821.8" y="318.3">NCF1</text>
<text transform="rotate(0.04 850.3 318.3)" x="850.3" y="318.3">IFNG</text>
<text transform="rotate(0.04 878.8 318.3)" x="878.8" y="318.3">MPO</text>
<text transform="rotate(0.04 907.3 318.3)" x="907.3" y="318.3">OLR1</text>
<text transform="rotate(0.04 935.8 318.3)" x="935.8" y="318.3">PRSS1</text>
<text transform="rotate(0.04 964.4 318.3)" x="964.4" y="318.3">DPP4</text>
<text transform="rotate(0.04 593.6 332.5)" x="593.6" y="332.5">HTR2A</text>
<text transform="rotate(0.04 622.1 332.5)" x="622.1" y="332.5">CCNA2</text>
<text transform="rotate(0.04 650.6 332.5)" x="650.6" y="332.5">PCOLCE</text>
<text transform="rotate(0.04 679.2 332.5)" x="679.2" y="332.5">TOP2</text>
<text transform="rotate(0.04 707.7 332.5)" x="707.7" y="332.5">ESR1</text>
<text transform="rotate(0.04 736.2 332.5)" x="736.2" y="332.5">NFKBIA</text>
<text transform="rotate(0.04 764.7 332.5)" x="764.7" y="332.5">Tp53</text>
<text transform="rotate(0.04 793.2 332.5)" x="793.2" y="332.5">RUNX1T1</text>
<text transform="rotate(0.04 821.8 332.5)" x="821.8" y="332.5">NR1I3</text>
<text transform="rotate(0.04 850.3 332.5)" x="850.3" y="332.5">INSR</text>
<text transform="rotate(0.04 878.8 332.5)" x="878.8" y="332.5">GABRA5</text>
<text transform="rotate(0.04 907.3 332.5)" x="907.3" y="332.5">VEGFA</text>
<text transform="rotate(0.04 935.8 332.5)" x="935.8" y="332.5">CHRNA7</text>
<text transform="rotate(0.04 964.4 332.5)" x="964.4" y="332.5">NCOA1</text>
<text transform="rotate(0.04 593.6 346.7)" x="593.6" y="346.7">NCOA2</text>
<text transform="rotate(0.04 622.1 346.7)" x="622.1" y="346.7">PPARA</text>
<text transform="rotate(0.04 650.6 346.7)" x="650.6" y="346.7">MMP9</text>
<text transform="rotate(0.04 679.2 346.7)" x="679.2" y="346.7">NOS2</text>
<text transform="rotate(0.04 707.7 346.7)" x="707.7" y="346.7">COL1A1</text>
<text transform="rotate(0.04 736.2 346.7)" x="736.2" y="346.7">MMP1</text>
<text transform="rotate(0.04 764.7 346.7)" x="764.7" y="346.7">IGHG1</text>
<text transform="rotate(0.04 793.2 346.7)" x="793.2" y="346.7">GSTP1</text>
<text transform="rotate(0.04 821.8 346.7)" x="821.8" y="346.7">IL2</text>
<text transform="rotate(0.04 850.3 346.7)" x="850.3" y="346.7">PKIA</text>
<text transform="rotate(0.04 878.8 346.7)" x="878.8" y="346.7">ACHE</text>
<text transform="rotate(0.04 907.3 346.7)" x="907.3" y="346.7">ADRA1D</text>
<text transform="rotate(0.04 935.8 346.7)" x="935.8" y="346.7">PON1</text>
<text transform="rotate(0.04 964.4 346.7)" x="964.4" y="346.7">IL1B</text>
<text transform="rotate(0.04 593.6 360.9)" x="593.6" y="360.9">IL4</text>
<text transform="rotate(0.04 622.1 360.9)" x="622.1" y="360.9">GABRA6</text>
<text transform="rotate(0.04 650.6 360.9)" x="650.6" y="360.9">CALM</text>
<text transform="rotate(0.04 679.2 360.9)" x="679.2" y="360.9">CASP3</text>
<text transform="rotate(0.04 707.7 360.9)" x="707.7" y="360.9">PTGER3</text>
<text transform="rotate(0.04 736.2 360.9)" x="736.2" y="360.9">XDH</text>
<text transform="rotate(0.04 764.7 360.9)" x="764.7" y="360.9">PPARG</text>
<text transform="rotate(0.04 793.2 360.9)" x="793.2" y="360.9">ADRB2</text>
<text transform="rotate(0.04 821.8 360.9)" x="821.8" y="360.9">SLC6A4</text>
<text transform="rotate(0.04 850.3 360.9)" x="850.3" y="360.9">RXRA</text>
<text transform="rotate(0.04 878.8 360.9)" x="878.8" y="360.9">MYC</text>
<text transform="rotate(0.04 907.3 360.9)" x="907.3" y="360.9">COL3A1</text>
<text transform="rotate(0.04 935.8 360.9)" x="935.8" y="360.9">AHR</text>
<text transform="rotate(0.04 964.4 360.9)" x="964.4" y="360.9">KDR</text>
<text transform="rotate(0.04 593.6 375.1)" x="593.6" y="375.1">MT-ND6</text>
<text transform="rotate(0.04 622.1 375.1)" x="622.1" y="375.1">AHSA1</text>
<text transform="rotate(0.04 650.6 375.1)" x="650.6" y="375.1">SLC6A3</text>
<text transform="rotate(0.04 679.2 375.1)" x="679.2" y="375.1">DRD1</text>
<text transform="rotate(0.04 707.7 375.1)" x="707.7" y="375.1">SLC2A4</text>
<text transform="rotate(0.04 736.2 375.1)" x="736.2" y="375.1">TGFB1</text>
<text transform="rotate(0.04 764.7 375.1)" x="764.7" y="375.1">F7</text>
<text transform="rotate(0.04 793.2 375.1)" x="793.2" y="375.1">CYP3A4</text>
<text transform="rotate(0.04 821.8 375.1)" x="821.8" y="375.1">FOS</text>
<text transform="rotate(0.04 850.3 375.1)" x="850.3" y="375.1">PTGS2</text>
<text transform="rotate(0.04 878.8 375.1)" x="878.8" y="375.1">RASA1</text>
<text transform="rotate(0.04 907.3 375.1)" x="907.3" y="375.1">CDK2</text>
<text transform="rotate(0.04 935.8 375.1)" x="935.8" y="375.1">GSK3B</text>
<text transform="rotate(0.04 964.4 375.1)" x="964.4" y="375.1">IL10</text>
<text transform="rotate(0.04 593.6 389.3)" x="593.6" y="389.3">OPRD1</text>
<text transform="rotate(0.04 622.1 389.3)" x="622.1" y="389.3">MGAM</text>
<text transform="rotate(0.04 650.6 389.3)" x="650.6" y="389.3">NR3C1</text>
<text transform="rotate(0.04 679.2 389.3)" x="679.2" y="389.3">MAOB</text>
<text transform="rotate(0.04 707.7 389.3)" x="707.7" y="389.3">PIM1</text>
<text transform="rotate(0.04 736.2 389.3)" x="736.2" y="389.3">CDKN2A</text>
<text transform="rotate(0.04 764.7 389.3)" x="764.7" y="389.3">HAS2</text>
<text transform="rotate(0.04 793.2 389.3)" x="793.2" y="389.3">ABCG2</text>
<text transform="rotate(0.04 821.8 389.3)" x="821.8" y="389.3">PIK3CD</text>
<text transform="rotate(0.04 850.3 389.3)" x="850.3" y="389.3">ACACA</text>
<text transform="rotate(0.04 878.8 389.3)" x="878.8" y="389.3">IKBKB</text>
<text transform="rotate(0.04 907.3 389.3)" x="907.3" y="389.3">CXCL11</text>
<text transform="rotate(0.04 935.8 389.3)" x="935.8" y="389.3">PYGM</text>
<text transform="rotate(0.04 964.4 389.3)" x="964.4" y="389.3">NOS3</text>
<text transform="rotate(0.04 593.6 403.6)" x="593.6" y="403.6">SPP1</text>
<text transform="rotate(0.04 622.1 403.6)" x="622.1" y="403.6">CHEK1</text>
<text transform="rotate(0.04 650.6 403.6)" x="650.6" y="403.6">CXCL2</text>
<text transform="rotate(0.04 679.2 403.6)" x="679.2" y="403.6">CHRM4</text>
<text transform="rotate(0.04 707.7 403.6)" x="707.7" y="403.6">MAPK8</text>
<text transform="rotate(0.04 736.2 403.6)" x="736.2" y="403.6">GSTM2</text>
<text transform="rotate(0.04 764.7 403.6)" x="764.7" y="403.6">EGFR</text>
<text transform="rotate(0.04 793.2 403.6)" x="793.2" y="403.6">ADH1C</text>
<text transform="rotate(0.04 821.8 403.6)" x="821.8" y="403.6">TOP1</text>
<text transform="rotate(0.04 850.3 403.6)" x="850.3" y="403.6">CXCL10</text>
<text transform="rotate(0.04 878.8 403.6)" x="878.8" y="403.6">CLDN4</text>
<text transform="rotate(0.04 907.3 403.6)" x="907.3" y="403.6">STAT1</text>
<text transform="rotate(0.04 935.8 403.6)" x="935.8" y="403.6">F10</text>
<text transform="rotate(0.04 964.4 403.6)" x="964.4" y="403.6">PLAU</text>
<text transform="rotate(0.04 593.6 417.8)" x="593.6" y="417.8">BCL2L1</text>
<text transform="rotate(0.04 622.1 417.8)" x="622.1" y="417.8">CYP1B1</text>
<text transform="rotate(0.04 650.6 417.8)" x="650.6" y="417.8">MMP3</text>
<text transform="rotate(0.04 679.2 417.8)" x="679.2" y="417.8">ADH1B</text>
<text transform="rotate(0.04 707.7 417.8)" x="707.7" y="417.8">EGF</text>
<text transform="rotate(0.04 736.2 417.8)" x="736.2" y="417.8">CTSD</text>
<text transform="rotate(0.04 764.7 417.8)" x="764.7" y="417.8">ESR2</text>
<text transform="rotate(0.04 793.2 417.8)" x="793.2" y="417.8">SOD1</text>
<text transform="rotate(0.04 821.8 417.8)" x="821.8" y="417.8">PRKCA</text>
<text transform="rotate(0.04 850.3 417.8)" x="850.3" y="417.8">CYP450</text>
<text transform="rotate(0.04 878.8 417.8)" x="878.8" y="417.8">ATP5B</text>
<text transform="rotate(0.04 907.3 417.8)" x="907.3" y="417.8">HIF1A</text>
<text transform="rotate(0.04 935.8 417.8)" x="935.8" y="417.8">IGF2</text>
<text transform="rotate(0.04 964.4 417.8)" x="964.4" y="417.8">HTR3A</text>
<text transform="rotate(0.04 593.6 432.0)" x="593.6" y="432.0">MET</text>
<text transform="rotate(0.04 622.1 432.0)" x="622.1" y="432.0">PTGS1</text>
<text transform="rotate(0.04 650.6 432.0)" x="650.6" y="432.0">TOP2A</text>
<text transform="rotate(0.04 679.2 432.0)" x="679.2" y="432.0">AKR1C3</text>
<text transform="rotate(0.04 707.7 432.0)" x="707.7" y="432.0">AKT1</text>
<text transform="rotate(0.04 736.2 432.0)" x="736.2" y="432.0">HERC5</text>
<text transform="rotate(0.04 764.7 432.0)" x="764.7" y="432.0">HSD3B1</text>
<text transform="rotate(0.04 793.2 432.0)" x="793.2" y="432.0">ICAM1</text>
<text transform="rotate(0.04 821.8 432.0)" x="821.8" y="432.0">ERBB2</text>
<text transform="rotate(0.04 850.3 432.0)" x="850.3" y="432.0">NQO1</text>
<text transform="rotate(0.04 878.8 432.0)" x="878.8" y="432.0">EIF6</text>
<text transform="rotate(0.04 907.3 432.0)" x="907.3" y="432.0">HMOX1</text>
<text transform="rotate(0.04 935.8 432.0)" x="935.8" y="432.0">HSP90AA1</text>
<text transform="rotate(0.04 964.4 432.0)" x="964.4" y="432.0">GJA1</text>
<text transform="rotate(0.04 593.6 446.2)" x="593.6" y="446.2">ADRA2C</text>
<text transform="rotate(0.04 622.1 446.2)" x="622.1" y="446.2">KCNH2</text>
<text transform="rotate(0.04 650.6 446.2)" x="650.6" y="446.2">VCAM1</text>
<text transform="rotate(0.04 679.2 446.2)" x="679.2" y="446.2">DCAF5</text>
<text transform="rotate(0.04 707.7 446.2)" x="707.7" y="446.2">E2F1</text>
<text transform="rotate(0.04 736.2 446.2)" x="736.2" y="446.2">BIRC5</text>
<text transform="rotate(0.04 764.7 446.2)" x="764.7" y="446.2">NPEPPS</text>
<text transform="rotate(0.04 793.2 446.2)" x="793.2" y="446.2">HK2</text>
<text transform="rotate(0.04 821.8 446.2)" x="821.8" y="446.2">THBD</text>
<text transform="rotate(0.04 850.3 446.2)" x="850.3" y="446.2">ALOX5</text>
<text transform="rotate(0.04 878.8 446.2)" x="878.8" y="446.2">E2F2</text>
<text transform="rotate(0.04 907.3 446.2)" x="907.3" y="446.2">RXRB</text>
<text transform="rotate(0.04 935.8 446.2)" x="935.8" y="446.2">BCL2</text>
<text transform="rotate(0.04 964.4 446.2)" x="964.4" y="446.2">IL6</text>
<text transform="rotate(0.04 593.6 460.4)" x="593.6" y="460.4">CHRM3</text>
<text transform="rotate(0.04 622.1 460.4)" x="622.1" y="460.4">ACPP</text>
<text transform="rotate(0.04 650.6 460.4)" x="650.6" y="460.4">SIRT1</text>
<text transform="rotate(0.04 679.2 460.4)" x="679.2" y="460.4">CD40LG</text>
<text transform="rotate(0.04 707.7 460.4)" x="707.7" y="460.4">CAV1</text>
<text transform="rotate(0.04 736.2 460.4)" x="736.2" y="460.4">CCND1</text>
<text transform="rotate(0.04 764.7 460.4)" x="764.7" y="460.4">RASSF1</text>
<text transform="rotate(0.04 793.2 460.4)" x="793.2" y="460.4">NR1I2</text>
<text transform="rotate(0.04 821.8 460.4)" x="821.8" y="460.4">GSTM1</text>
<text transform="rotate(0.04 850.3 460.4)" x="850.3" y="460.4">CCL2</text>
<text transform="rotate(0.04 878.8 460.4)" x="878.8" y="460.4">CCNB1</text>
<text transform="rotate(0.04 907.3 460.4)" x="907.3" y="460.4">CHUK</text>
<text transform="rotate(0.04 935.8 460.4)" x="935.8" y="460.4">OPRM1</text>
</g></g>
<g id="netC">
<path fill="none" stroke="#808080" stroke-opacity="0.27" stroke-width="0.8" d="M1367.8 75.8L1401.0 136.3M1367.8 75.8L1655.2 286.3M1367.8 75.8L1408.4 326.2M1367.8 75.8L1504.5 326.2M1367.8 75.8L1152.2 371.2M1367.8 75.8L1568.1 578.5M1435.4 68.3L1503.7 75.8M1435.4 68.3L1504.5 326.2M1435.4 68.3L1357.0 449.0M1503.7 75.8L1568.5 99.2M1503.7 75.8L1400.4 214.5M1503.7 75.8L1499.4 214.5M1503.7 75.8L1504.5 326.2M1503.7 75.8L1456.3 405.1M1503.7 75.8L1168.6 435.6M1503.7 75.8L1302.6 578.5M1302.6 99.2L1401.0 136.3M1302.6 99.2L1307.2 367.8M1568.5 99.2L1324.4 275.3M1568.5 99.2L1504.5 326.2M1568.5 99.2L1640.4 437.2M1568.5 99.2L1200.7 492.6M1568.5 99.2L1367.0 601.6M1246.0 136.3L1324.9 164.4M1624.8 136.3L1482.6 136.3M1624.8 136.3L1670.5 185.1M1624.8 136.3L1400.4 214.5M1624.8 136.3L1575.6 275.3M1624.8 136.3L1307.2 367.8M1624.8 136.3L1568.1 578.5M1401.0 136.3L1670.5 185.1M1401.0 136.3L1408.4 326.2M1401.0 136.3L1504.5 326.2M1401.0 136.3L1220.6 363.0M1401.0 136.3L1543.2 449.0M1401.0 136.3L1292.0 498.9M1401.0 136.3L1449.8 481.7M1482.6 136.3L1400.4 214.5M1482.6 136.3L1575.6 275.3M1482.6 136.3L1228.4 286.3M1482.6 136.3L1292.0 498.9M1482.6 136.3L1449.8 481.7M1482.6 136.3L1591.6 498.9M1482.6 136.3L1670.5 492.6M1324.9 164.4L1200.3 185.1M1324.9 164.4L1324.4 275.3M1324.9 164.4L1655.2 286.3M1324.9 164.4L1408.4 326.2M1324.9 164.4L1504.5 326.2M1324.9 164.4L1307.2 367.8M1324.9 164.4L1357.0 449.0M1324.9 164.4L1435.4 609.8M1558.4 164.4L1670.5 185.1M1558.4 164.4L1499.4 214.5M1558.4 164.4L1408.4 326.2M1558.4 164.4L1504.5 326.2M1558.4 164.4L1307.2 367.8M1558.4 164.4L1168.6 435.6M1558.4 164.4L1357.0 449.0M1558.4 164.4L1441.6 554.3M1558.4 164.4L1302.6 578.5M1200.3 185.1L1264.7 216.0M1200.3 185.1L1618.9 216.0M1200.3 185.1L1408.4 326.2M1200.3 185.1L1504.5 326.2M1200.3 185.1L1220.6 363.0M1200.3 185.1L1168.6 435.6M1200.3 185.1L1543.2 449.0M1670.5 185.1L1618.9 216.0M1670.5 185.1L1504.5 326.2M1670.5 185.1L1302.6 578.5M1264.7 216.0L1499.4 214.5M1264.7 216.0L1575.6 275.3M1264.7 216.0L1307.2 367.8M1264.7 216.0L1456.3 405.1M1264.7 216.0L1640.4 437.2M1264.7 216.0L1200.7 492.6M1264.7 216.0L1292.0 498.9M1264.7 216.0L1441.6 554.3M1264.7 216.0L1302.6 578.5M1618.9 216.0L1499.4 214.5M1618.9 216.0L1324.4 275.3M1618.9 216.0L1408.4 326.2M1618.9 216.0L1456.3 405.1M1618.9 216.0L1357.0 449.0M1618.9 216.0L1521.7 539.9M1400.4 214.5L1324.4 275.3M1400.4 214.5L1575.6 275.3M1400.4 214.5L1504.5 326.2M1400.4 214.5L1220.6 363.0M1400.4 214.5L1307.2 367.8M1400.4 214.5L1357.0 449.0M1400.4 214.5L1543.2 449.0M1499.4 214.5L1324.4 275.3M1499.4 214.5L1228.4 286.3M1499.4 214.5L1655.2 286.3M1499.4 214.5L1408.4 326.2M1499.4 214.5L1504.5 326.2M1499.4 214.5L1152.2 371.2M1499.4 214.5L1220.6 363.0M1499.4 214.5L1307.2 367.8M1499.4 214.5L1456.3 405.1M1499.4 214.5L1543.2 449.0M1499.4 214.5L1640.4 437.2M1499.4 214.5L1200.7 492.6M1499.4 214.5L1292.0 498.9M1499.4 214.5L1246.4 541.4M1499.4 214.5L1361.2 539.9M1169.0 243.3L1702.0 243.3M1169.0 243.3L1456.3 405.1M1169.0 243.3L1168.6 435.6M1169.0 243.3L1367.0 601.6M1702.0 243.3L1575.6 275.3M1702.0 243.3L1456.3 405.1M1702.0 243.3L1449.8 481.7M1702.0 243.3L1670.5 492.6M1324.4 275.3L1575.6 275.3M1324.4 275.3L1655.2 286.3M1324.4 275.3L1408.4 326.2M1324.4 275.3L1220.6 363.0M1324.4 275.3L1307.2 367.8M1324.4 275.3L1593.0 367.8M1324.4 275.3L1662.7 363.0M1324.4 275.3L1456.3 405.1M1324.4 275.3L1357.0 449.0M1324.4 275.3L1543.2 449.0M1324.4 275.3L1449.8 481.7M1324.4 275.3L1361.2 539.9M1324.4 275.3L1441.6 554.3M1324.4 275.3L1521.7 539.9M1324.4 275.3L1568.1 578.5M1575.6 275.3L1228.4 286.3M1575.6 275.3L1655.2 286.3M1575.6 275.3L1408.4 326.2M1575.6 275.3L1504.5 326.2M1575.6 275.3L1307.2 367.8M1575.6 275.3L1456.3 405.1M1575.6 275.3L1242.5 437.2M1575.6 275.3L1357.0 449.0M1575.6 275.3L1441.6 554.3M1228.4 286.3L1504.5 326.2M1228.4 286.3L1307.2 367.8M1228.4 286.3L1242.5 437.2M1228.4 286.3L1543.2 449.0M1228.4 286.3L1449.8 481.7M1228.4 286.3L1670.5 492.6M1228.4 286.3L1361.2 539.9M1655.2 286.3L1718.9 306.6M1655.2 286.3L1504.5 326.2M1655.2 286.3L1662.7 363.0M1655.2 286.3L1242.5 437.2M1655.2 286.3L1246.4 541.4M1655.2 286.3L1361.2 539.9M1152.2 306.6L1152.2 371.2M1152.2 306.6L1220.6 363.0M1152.2 306.6L1302.6 578.5M1718.9 306.6L1220.6 363.0M1718.9 306.6L1456.3 405.1M1408.4 326.2L1152.2 371.2M1408.4 326.2L1220.6 363.0M1408.4 326.2L1307.2 367.8M1408.4 326.2L1662.7 363.0M1408.4 326.2L1456.3 405.1M1408.4 326.2L1242.5 437.2M1408.4 326.2L1357.0 449.0M1408.4 326.2L1543.2 449.0M1408.4 326.2L1200.7 492.6M1408.4 326.2L1292.0 498.9M1408.4 326.2L1361.2 539.9M1408.4 326.2L1624.8 541.4M1504.5 326.2L1220.6 363.0M1504.5 326.2L1307.2 367.8M1504.5 326.2L1593.0 367.8M1504.5 326.2L1456.3 405.1M1504.5 326.2L1242.5 437.2M1504.5 326.2L1357.0 449.0M1504.5 326.2L1543.2 449.0M1504.5 326.2L1640.4 437.2M1504.5 326.2L1702.5 435.2M1504.5 326.2L1449.8 481.7M1504.5 326.2L1591.6 498.9M1504.5 326.2L1670.5 492.6M1504.5 326.2L1246.4 541.4M1504.5 326.2L1361.2 539.9M1504.5 326.2L1441.6 554.3M1504.5 326.2L1521.7 539.9M1504.5 326.2L1624.8 541.4M1504.5 326.2L1367.0 601.6M1152.2 371.2L1456.3 405.1M1152.2 371.2L1200.7 492.6M1152.2 371.2L1503.7 601.6M1220.6 363.0L1307.2 367.8M1220.6 363.0L1456.3 405.1M1220.6 363.0L1357.0 449.0M1220.6 363.0L1543.2 449.0M1220.6 363.0L1361.2 539.9M1220.6 363.0L1521.7 539.9M1307.2 367.8L1593.0 367.8M1307.2 367.8L1456.3 405.1M1307.2 367.8L1357.0 449.0M1307.2 367.8L1543.2 449.0M1307.2 367.8L1292.0 498.9M1307.2 367.8L1449.8 481.7M1307.2 367.8L1521.7 539.9M1307.2 367.8L1503.7 601.6M1593.0 367.8L1718.9 371.2M1593.0 367.8L1456.3 405.1M1593.0 367.8L1357.0 449.0M1593.0 367.8L1640.4 437.2M1593.0 367.8L1200.7 492.6M1593.0 367.8L1292.0 498.9M1593.0 367.8L1361.2 539.9M1662.7 363.0L1718.9 371.2M1662.7 363.0L1456.3 405.1M1662.7 363.0L1242.5 437.2M1662.7 363.0L1357.0 449.0M1662.7 363.0L1640.4 437.2M1662.7 363.0L1449.8 481.7M1662.7 363.0L1591.6 498.9M1718.9 371.2L1640.4 437.2M1456.3 405.1L1168.6 435.6M1456.3 405.1L1242.5 437.2M1456.3 405.1L1357.0 449.0M1456.3 405.1L1543.2 449.0M1456.3 405.1L1292.0 498.9M1456.3 405.1L1449.8 481.7M1456.3 405.1L1591.6 498.9M1456.3 405.1L1246.4 541.4M1456.3 405.1L1361.2 539.9M1456.3 405.1L1441.6 554.3M1456.3 405.1L1521.7 539.9M1456.3 405.1L1302.6 578.5M1168.6 435.6L1242.5 437.2M1168.6 435.6L1292.0 498.9M1168.6 435.6L1367.0 601.6M1242.5 437.2L1357.0 449.0M1242.5 437.2L1543.2 449.0M1242.5 437.2L1449.8 481.7M1242.5 437.2L1361.2 539.9M1357.0 449.0L1640.4 437.2M1357.0 449.0L1702.5 435.2M1357.0 449.0L1441.6 554.3M1357.0 449.0L1367.0 601.6M1357.0 449.0L1503.7 601.6M1543.2 449.0L1292.0 498.9M1543.2 449.0L1449.8 481.7M1543.2 449.0L1246.4 541.4M1543.2 449.0L1521.7 539.9M1543.2 449.0L1568.1 578.5M1640.4 437.2L1702.5 435.2M1640.4 437.2L1591.6 498.9M1640.4 437.2L1521.7 539.9M1640.4 437.2L1503.7 601.6M1200.7 492.6L1292.0 498.9M1292.0 498.9L1449.8 481.7M1292.0 498.9L1591.6 498.9M1292.0 498.9L1246.4 541.4M1292.0 498.9L1302.6 578.5M1670.5 492.6L1361.2 539.9M1670.5 492.6L1521.7 539.9M1246.4 541.4L1624.8 541.4M1521.7 539.9L1568.1 578.5M1521.7 539.9L1367.0 601.6M1302.6 578.5L1503.7 601.6M1367.0 601.6L1503.7 601.6"/>
<path fill="none" stroke="#707070" stroke-opacity="0.42" stroke-width="0.8" d="M1367.8 75.8L1435.4 68.3M1367.8 75.8L1499.4 214.5M1435.4 68.3L1400.4 214.5M1503.7 75.8L1543.2 449.0M1503.7 75.8L1292.0 498.9M1503.7 75.8L1624.8 541.4M1503.7 75.8L1503.7 601.6M1302.6 99.2L1324.9 164.4M1568.5 99.2L1624.8 136.3M1568.5 99.2L1408.4 326.2M1568.5 99.2L1307.2 367.8M1568.5 99.2L1543.2 449.0M1568.5 99.2L1246.4 541.4M1568.5 99.2L1361.2 539.9M1568.5 99.2L1521.7 539.9M1246.0 136.3L1618.9 216.0M1246.0 136.3L1593.0 367.8M1624.8 136.3L1264.7 216.0M1401.0 136.3L1324.4 275.3M1401.0 136.3L1593.0 367.8M1482.6 136.3L1504.5 326.2M1482.6 136.3L1220.6 363.0M1482.6 136.3L1307.2 367.8M1482.6 136.3L1662.7 363.0M1482.6 136.3L1357.0 449.0M1482.6 136.3L1521.7 539.9M1324.9 164.4L1558.4 164.4M1324.9 164.4L1264.7 216.0M1558.4 164.4L1324.4 275.3M1558.4 164.4L1456.3 405.1M1558.4 164.4L1242.5 437.2M1558.4 164.4L1543.2 449.0M1200.3 185.1L1307.2 367.8M1200.3 185.1L1503.7 601.6M1670.5 185.1L1591.6 498.9M1264.7 216.0L1228.4 286.3M1264.7 216.0L1408.4 326.2M1264.7 216.0L1504.5 326.2M1264.7 216.0L1357.0 449.0M1618.9 216.0L1400.4 214.5M1618.9 216.0L1307.2 367.8M1400.4 214.5L1499.4 214.5M1400.4 214.5L1152.2 306.6M1400.4 214.5L1408.4 326.2M1400.4 214.5L1456.3 405.1M1400.4 214.5L1449.8 481.7M1499.4 214.5L1152.2 306.6M1499.4 214.5L1357.0 449.0M1499.4 214.5L1441.6 554.3M1169.0 243.3L1292.0 498.9M1702.0 243.3L1503.7 601.6M1324.4 275.3L1242.5 437.2M1324.4 275.3L1640.4 437.2M1575.6 275.3L1152.2 306.6M1575.6 275.3L1220.6 363.0M1575.6 275.3L1543.2 449.0M1575.6 275.3L1591.6 498.9M1228.4 286.3L1408.4 326.2M1228.4 286.3L1357.0 449.0M1655.2 286.3L1220.6 363.0M1655.2 286.3L1456.3 405.1M1655.2 286.3L1168.6 435.6M1655.2 286.3L1521.7 539.9M1152.2 306.6L1504.5 326.2M1718.9 306.6L1307.2 367.8M1408.4 326.2L1504.5 326.2M1408.4 326.2L1593.0 367.8M1408.4 326.2L1168.6 435.6M1408.4 326.2L1640.4 437.2M1408.4 326.2L1449.8 481.7M1408.4 326.2L1246.4 541.4M1408.4 326.2L1367.0 601.6M1408.4 326.2L1435.4 609.8M1504.5 326.2L1718.9 371.2M1504.5 326.2L1292.0 498.9M1152.2 371.2L1307.2 367.8M1152.2 371.2L1242.5 437.2M1152.2 371.2L1246.4 541.4M1307.2 367.8L1662.7 363.0M1307.2 367.8L1242.5 437.2M1307.2 367.8L1200.7 492.6M1307.2 367.8L1361.2 539.9M1307.2 367.8L1435.4 609.8M1593.0 367.8L1662.7 363.0M1593.0 367.8L1449.8 481.7M1593.0 367.8L1568.1 578.5M1718.9 371.2L1242.5 437.2M1168.6 435.6L1624.8 541.4M1242.5 437.2L1200.7 492.6M1242.5 437.2L1246.4 541.4M1357.0 449.0L1543.2 449.0M1357.0 449.0L1292.0 498.9M1357.0 449.0L1449.8 481.7M1543.2 449.0L1200.7 492.6M1543.2 449.0L1361.2 539.9M1543.2 449.0L1302.6 578.5M1640.4 437.2L1361.2 539.9M1200.7 492.6L1521.7 539.9M1292.0 498.9L1361.2 539.9M1449.8 481.7L1361.2 539.9M1591.6 498.9L1624.8 541.4M1670.5 492.6L1441.6 554.3M1246.4 541.4L1361.2 539.9M1361.2 539.9L1302.6 578.5M1521.7 539.9L1624.8 541.4"/>
<ellipse cx="1367.8" cy="75.8" rx="9.1" ry="9.1" fill="#f2e03b"/>
<ellipse cx="1435.4" cy="68.3" rx="9.2" ry="9.2" fill="#f2e03b"/>
<ellipse cx="1503.7" cy="75.8" rx="9.4" ry="9.4" fill="#f2e03b"/>
<ellipse cx="1302.6" cy="99.2" rx="9.4" ry="9.4" fill="#f2dc3b"/>
<ellipse cx="1568.5" cy="99.2" rx="9.1" ry="9.1" fill="#f2dc3b"/>
<ellipse cx="1246.0" cy="136.3" rx="9.4" ry="9.4" fill="#f2dc3b"/>
<ellipse cx="1624.8" cy="136.3" rx="8.9" ry="8.9" fill="#f2e03b"/>
<ellipse cx="1401.0" cy="136.3" rx="12.8" ry="12.6" fill="#ebb340"/>
<ellipse cx="1482.6" cy="136.3" rx="12.4" ry="12.2" fill="#ebb340"/>
<ellipse cx="1324.9" cy="164.4" rx="13.8" ry="13.5" fill="#ebad42"/>
<ellipse cx="1558.4" cy="164.4" rx="12.6" ry="12.4" fill="#ebb340"/>
<ellipse cx="1200.3" cy="185.1" rx="10.4" ry="10.4" fill="#f0d23c"/>
<ellipse cx="1670.5" cy="185.1" rx="8.9" ry="8.9" fill="#f2dc3b"/>
<ellipse cx="1264.7" cy="216.0" rx="13.6" ry="13.3" fill="#ebad42"/>
<ellipse cx="1618.9" cy="216.0" rx="12.5" ry="12.3" fill="#ebb240"/>
<ellipse cx="1400.4" cy="214.5" rx="20.0" ry="19.3" fill="#e06362"/>
<ellipse cx="1499.4" cy="214.5" rx="19.8" ry="19.1" fill="#e16561"/>
<ellipse cx="1169.0" cy="243.3" rx="10.2" ry="10.2" fill="#f1d63c"/>
<ellipse cx="1702.0" cy="243.3" rx="8.3" ry="8.3" fill="#f4ea3a"/>
<ellipse cx="1324.4" cy="275.3" rx="22.4" ry="21.5" fill="#df5b5c"/>
<ellipse cx="1575.6" cy="275.3" rx="18.1" ry="17.5" fill="#e57659"/>
<ellipse cx="1228.4" cy="286.3" rx="16.5" ry="16.1" fill="#e78b50"/>
<ellipse cx="1655.2" cy="286.3" rx="13.0" ry="12.8" fill="#ebaf40"/>
<ellipse cx="1152.2" cy="306.6" rx="10.4" ry="10.4" fill="#f0d23c"/>
<ellipse cx="1718.9" cy="306.6" rx="8.3" ry="8.3" fill="#f4ea3a"/>
<ellipse cx="1408.4" cy="326.2" rx="32.4" ry="30.8" fill="#dc3535"/>
<ellipse cx="1504.5" cy="326.2" rx="33.4" ry="31.7" fill="#dc3535"/>
<ellipse cx="1152.2" cy="371.2" rx="10.4" ry="10.4" fill="#f0d23c"/>
<ellipse cx="1220.6" cy="363.0" rx="16.1" ry="15.7" fill="#e8904e"/>
<ellipse cx="1307.2" cy="367.8" rx="25.8" ry="24.6" fill="#de4e51"/>
<ellipse cx="1593.0" cy="367.8" rx="17.9" ry="17.4" fill="#e57958"/>
<ellipse cx="1662.7" cy="363.0" rx="12.8" ry="12.6" fill="#ebb240"/>
<ellipse cx="1718.9" cy="371.2" rx="8.4" ry="8.4" fill="#f4ea3a"/>
<ellipse cx="1456.3" cy="405.1" rx="26.8" ry="25.6" fill="#de4a4d"/>
<ellipse cx="1168.6" cy="435.6" rx="10.7" ry="10.6" fill="#f0d23c"/>
<ellipse cx="1242.5" cy="437.2" rx="15.8" ry="15.3" fill="#e8954c"/>
<ellipse cx="1357.0" cy="449.0" rx="27.6" ry="26.3" fill="#de4749"/>
<ellipse cx="1543.2" cy="449.0" rx="18.0" ry="17.4" fill="#e57758"/>
<ellipse cx="1640.4" cy="437.2" rx="12.7" ry="12.5" fill="#ebb240"/>
<ellipse cx="1702.5" cy="435.2" rx="8.6" ry="8.6" fill="#f2e03b"/>
<ellipse cx="1200.7" cy="492.6" rx="10.5" ry="10.5" fill="#f0d23c"/>
<ellipse cx="1292.0" cy="498.9" rx="17.3" ry="16.8" fill="#e68055"/>
<ellipse cx="1449.8" cy="481.7" rx="18.1" ry="17.5" fill="#e57659"/>
<ellipse cx="1591.6" cy="498.9" rx="11.9" ry="11.8" fill="#edc03e"/>
<ellipse cx="1670.5" cy="492.6" rx="8.8" ry="8.8" fill="#f2e03b"/>
<ellipse cx="1246.4" cy="541.4" rx="11.6" ry="11.5" fill="#edc33e"/>
<ellipse cx="1361.2" cy="539.9" rx="16.9" ry="16.4" fill="#e78652"/>
<ellipse cx="1441.6" cy="554.3" rx="11.7" ry="11.6" fill="#edc03e"/>
<ellipse cx="1521.7" cy="539.9" rx="11.5" ry="11.4" fill="#edc33e"/>
<ellipse cx="1624.8" cy="541.4" rx="8.8" ry="8.8" fill="#f2e03b"/>
<ellipse cx="1302.6" cy="578.5" rx="11.9" ry="11.8" fill="#edc03e"/>
<ellipse cx="1568.1" cy="578.5" rx="8.8" ry="8.8" fill="#f2e03b"/>
<ellipse cx="1367.0" cy="601.6" rx="11.6" ry="11.5" fill="#edc33e"/>
<ellipse cx="1435.4" cy="609.8" rx="9.6" ry="9.6" fill="#f2e03b"/>
<ellipse cx="1503.7" cy="601.6" rx="8.8" ry="8.8" fill="#f2e03b"/>
<g font-family='"Liberation Sans", "Noto Sans CJK SC", sans-serif' fill="#0a0a0a" stroke="#0a0a0a" stroke-width="0.18" text-anchor="middle">
<text transform="rotate(0.04 1367.8 79.0)" x="1367.8" y="79.0" font-size="9.1">CHUK</text>
<text transform="rotate(0.04 1435.4 71.5)" x="1435.4" y="71.5" font-size="9.1">RAF1</text>
<text transform="rotate(0.04 1503.7 79.0)" x="1503.7" y="79.0" font-size="9.1">NFKBIA</text>
<text transform="rotate(0.04 1302.6 102.5)" x="1302.6" y="102.5" font-size="9.3">ESR2</text>
<text transform="rotate(0.04 1568.5 102.5)" x="1568.5" y="102.5" font-size="9.3">PRKCA</text>
<text transform="rotate(0.04 1246.0 139.6)" x="1246.0" y="139.6" font-size="9.3">E2F1</text>
<text transform="rotate(0.04 1624.8 139.5)" x="1624.8" y="139.5" font-size="9.1">PIK3CD</text>
<text transform="rotate(0.04 1401.0 140.1)" x="1401.0" y="140.1" font-size="10.6">NCOA1</text>
<text transform="rotate(0.04 1482.6 140.1)" x="1482.6" y="140.1" font-size="10.6">STAT1</text>
<text transform="rotate(0.04 1324.9 168.3)" x="1324.9" y="168.3" font-size="10.9">CASP3</text>
<text transform="rotate(0.04 1558.4 168.2)" x="1558.4" y="168.2" font-size="10.6">CAV1</text>
<text transform="rotate(0.04 1200.3 188.6)" x="1200.3" y="188.6" font-size="9.8">BCL2L1</text>
<text transform="rotate(0.04 1670.5 188.4)" x="1670.5" y="188.4" font-size="9.3">PRKCB</text>
<text transform="rotate(0.04 1264.7 219.9)" x="1264.7" y="219.9" font-size="10.9">MAPK8</text>
<text transform="rotate(0.04 1618.9 219.8)" x="1618.9" y="219.8" font-size="10.6">MMP9</text>
<text transform="rotate(0.04 1400.4 219.9)" x="1400.4" y="219.9" font-size="15.4">MAPK1</text>
<text transform="rotate(0.04 1499.4 219.9)" x="1499.4" y="219.9" font-size="15.2">IL1B</text>
<text transform="rotate(0.04 1169.0 246.7)" x="1169.0" y="246.7" font-size="9.6">CYP3A4</text>
<text transform="rotate(0.04 1702.0 246.4)" x="1702.0" y="246.4" font-size="8.8">CYP1A2</text>
<text transform="rotate(0.04 1324.4 281.2)" x="1324.4" y="281.2" font-size="16.6">ESR1</text>
<text transform="rotate(0.04 1575.6 280.4)" x="1575.6" y="280.4" font-size="14.4">RELA</text>
<text transform="rotate(0.04 1228.4 290.7)" x="1228.4" y="290.7" font-size="12.4">CCL2</text>
<text transform="rotate(0.04 1655.2 290.1)" x="1655.2" y="290.1" font-size="10.8">HIF1A</text>
<text transform="rotate(0.04 1152.2 310.1)" x="1152.2" y="310.1" font-size="9.8">CDKN1A</text>
<text transform="rotate(0.04 1718.9 309.7)" x="1718.9" y="309.7" font-size="8.8">CDK2</text>
<text transform="rotate(0.04 1408.4 333.9)" x="1408.4" y="333.9" font-size="21.7">JUN</text>
<text transform="rotate(0.04 1504.5 333.9)" x="1504.5" y="333.9" font-size="21.7">AKT1</text>
<text transform="rotate(0.04 1152.2 374.7)" x="1152.2" y="374.7" font-size="9.8">CDKN2A</text>
<text transform="rotate(0.04 1220.6 367.3)" x="1220.6" y="367.3" font-size="12.2">IFNG</text>
<text transform="rotate(0.04 1307.2 374.3)" x="1307.2" y="374.3" font-size="18.2">IL6</text>
<text transform="rotate(0.04 1593.0 372.8)" x="1593.0" y="372.8" font-size="14.2">EGFR</text>
<text transform="rotate(0.04 1662.7 366.8)" x="1662.7" y="366.8" font-size="10.6">IL10</text>
<text transform="rotate(0.04 1718.9 374.3)" x="1718.9" y="374.3" font-size="8.8">RUNX2</text>
<text transform="rotate(0.04 1456.3 412.0)" x="1456.3" y="412.0" font-size="19.4">HSP90AA1</text>
<text transform="rotate(0.04 1168.6 439.1)" x="1168.6" y="439.1" font-size="9.8">ICAM1</text>
<text transform="rotate(0.04 1242.5 441.5)" x="1242.5" y="441.5" font-size="12.0">CCND1</text>
<text transform="rotate(0.04 1357.0 455.6)" x="1357.0" y="455.6" font-size="18.6">TNF</text>
<text transform="rotate(0.04 1543.2 454.1)" x="1543.2" y="454.1" font-size="14.3">MYC</text>
<text transform="rotate(0.04 1640.4 441.0)" x="1640.4" y="441.0" font-size="10.6">IL1A</text>
<text transform="rotate(0.04 1702.5 438.4)" x="1702.5" y="438.4" font-size="9.1">PTGS2</text>
<text transform="rotate(0.04 1200.7 496.1)" x="1200.7" y="496.1" font-size="9.8">PTEN</text>
<text transform="rotate(0.04 1292.0 503.7)" x="1292.0" y="503.7" font-size="13.4">FOS</text>
<text transform="rotate(0.04 1449.8 486.8)" x="1449.8" y="486.8" font-size="14.4">BCL2</text>
<text transform="rotate(0.04 1591.6 502.5)" x="1591.6" y="502.5" font-size="10.2">IL2</text>
<text transform="rotate(0.04 1670.5 495.8)" x="1670.5" y="495.8" font-size="9.1">CYP1A1</text>
<text transform="rotate(0.04 1246.4 545.0)" x="1246.4" y="545.0" font-size="10.2">MAPK14</text>
<text transform="rotate(0.04 1361.2 544.5)" x="1361.2" y="544.5" font-size="12.9">CXCL8</text>
<text transform="rotate(0.04 1441.6 557.9)" x="1441.6" y="557.9" font-size="10.2">CXCL10</text>
<text transform="rotate(0.04 1521.7 543.5)" x="1521.7" y="543.5" font-size="10.2">GSK3B</text>
<text transform="rotate(0.04 1624.8 544.6)" x="1624.8" y="544.6" font-size="9.1">IKBKB</text>
<text transform="rotate(0.04 1302.6 582.1)" x="1302.6" y="582.1" font-size="10.2">IL4</text>
<text transform="rotate(0.04 1568.1 581.7)" x="1568.1" y="581.7" font-size="9.1">CASP8</text>
<text transform="rotate(0.04 1367.0 605.2)" x="1367.0" y="605.2" font-size="10.2">TGFB1</text>
<text transform="rotate(0.04 1435.4 613.0)" x="1435.4" y="613.0" font-size="9.1">NCF1</text>
<text transform="rotate(0.04 1503.7 604.8)" x="1503.7" y="604.8" font-size="9.1">PPARG</text>
</g></g>
<g id="barD">
<text transform="rotate(0.04 737.5 722.3)" x="737.5" y="722.3" font-family='"Liberation Sans", "Noto Sans CJK SC", sans-serif' font-size="29.8" text-anchor="middle" fill="#000">GO Results of Three Ontologies</text>
<rect x="389.3" y="739.30" width="556.8" height="17.1" fill="#d6673c" stroke="#d45a2c" stroke-width="0.6"/>
<rect x="389.3" y="760.90" width="548.7" height="17.1" fill="#d6673c" stroke="#d45a2c" stroke-width="0.6"/>
<rect x="389.3" y="782.49" width="537.5" height="17.1" fill="#d6673c" stroke="#d45a2c" stroke-width="0.6"/>
<rect x="389.3" y="804.09" width="512.1" height="17.1" fill="#d6673c" stroke="#d45a2c" stroke-width="0.6"/>
<rect x="389.3" y="825.69" width="483.4" height="17.1" fill="#d6673c" stroke="#d45a2c" stroke-width="0.6"/>
<rect x="389.3" y="847.29" width="464.5" height="17.1" fill="#d6673c" stroke="#d45a2c" stroke-width="0.6"/>
<rect x="389.3" y="868.88" width="463.2" height="17.1" fill="#d6673c" stroke="#d45a2c" stroke-width="0.6"/>
<rect x="389.3" y="890.48" width="442.6" height="17.1" fill="#d6673c" stroke="#d45a2c" stroke-width="0.6"/>
<rect x="389.3" y="912.08" width="435.8" height="17.1" fill="#d6673c" stroke="#d45a2c" stroke-width="0.6"/>
<rect x="389.3" y="933.67" width="434.2" height="17.1" fill="#d6673c" stroke="#d45a2c" stroke-width="0.6"/>
<rect x="389.3" y="955.27" width="393.4" height="17.1" fill="#5d9c6e" stroke="#55956a" stroke-width="0.6"/>
<rect x="389.3" y="976.87" width="392.4" height="17.1" fill="#5d9c6e" stroke="#55956a" stroke-width="0.6"/>
<rect x="389.3" y="998.46" width="383.4" height="17.1" fill="#5d9c6e" stroke="#55956a" stroke-width="0.6"/>
<rect x="389.3" y="1020.06" width="225.8" height="17.1" fill="#5d9c6e" stroke="#55956a" stroke-width="0.6"/>
<rect x="389.3" y="1041.66" width="215.5" height="17.1" fill="#5d9c6e" stroke="#55956a" stroke-width="0.6"/>
<rect x="389.3" y="1063.26" width="215.5" height="17.1" fill="#5d9c6e" stroke="#55956a" stroke-width="0.6"/>
<rect x="389.3" y="1084.85" width="210.9" height="17.1" fill="#5d9c6e" stroke="#55956a" stroke-width="0.6"/>
<rect x="389.3" y="1106.45" width="205.4" height="17.1" fill="#5d9c6e" stroke="#55956a" stroke-width="0.6"/>
<rect x="389.3" y="1128.05" width="204.1" height="17.1" fill="#5d9c6e" stroke="#55956a" stroke-width="0.6"/>
<rect x="389.3" y="1149.64" width="196.9" height="17.1" fill="#5d9c6e" stroke="#55956a" stroke-width="0.6"/>
<rect x="389.3" y="1171.24" width="271.4" height="17.1" fill="#3d3b76" stroke="#34306e" stroke-width="0.6"/>
<rect x="389.3" y="1192.84" width="261.3" height="17.1" fill="#3d3b76" stroke="#34306e" stroke-width="0.6"/>
<rect x="389.3" y="1214.43" width="245.2" height="17.1" fill="#3d3b76" stroke="#34306e" stroke-width="0.6"/>
<rect x="389.3" y="1236.03" width="245.2" height="17.1" fill="#3d3b76" stroke="#34306e" stroke-width="0.6"/>
<rect x="389.3" y="1257.63" width="192.3" height="17.1" fill="#3d3b76" stroke="#34306e" stroke-width="0.6"/>
<rect x="389.3" y="1279.23" width="191.9" height="17.1" fill="#3d3b76" stroke="#34306e" stroke-width="0.6"/>
<rect x="389.3" y="1300.82" width="186.8" height="17.1" fill="#3d3b76" stroke="#34306e" stroke-width="0.6"/>
<rect x="389.3" y="1322.42" width="186.4" height="17.1" fill="#3d3b76" stroke="#34306e" stroke-width="0.6"/>
<rect x="389.3" y="1344.02" width="172.0" height="17.1" fill="#3d3b76" stroke="#34306e" stroke-width="0.6"/>
<rect x="389.3" y="1365.61" width="169.0" height="17.1" fill="#3d3b76" stroke="#34306e" stroke-width="0.6"/>
<path d="M389.2 734.5V1387.8M388.3 1386.95H1084.8" stroke="#000" stroke-width="1.8" fill="none"/>
<path d="M385.2 747.85H389.3M385.2 769.45H389.3M385.2 791.04H389.3M385.2 812.64H389.3M385.2 834.24H389.3M385.2 855.84H389.3M385.2 877.43H389.3M385.2 899.03H389.3M385.2 920.63H389.3M385.2 942.22H389.3M385.2 963.82H389.3M385.2 985.42H389.3M385.2 1007.01H389.3M385.2 1028.61H389.3M385.2 1050.21H389.3M385.2 1071.81H389.3M385.2 1093.40H389.3M385.2 1115.00H389.3M385.2 1136.60H389.3M385.2 1158.19H389.3M385.2 1179.79H389.3M385.2 1201.39H389.3M385.2 1222.98H389.3M385.2 1244.58H389.3M385.2 1266.18H389.3M385.2 1287.78H389.3M385.2 1309.37H389.3M385.2 1330.97H389.3M385.2 1352.57H389.3M385.2 1374.16H389.3M389.3 1386.9V1391.4M571.8 1386.9V1391.4M754.3 1386.9V1391.4M936.8 1386.9V1391.4" stroke="#000" stroke-width="1.35" fill="none"/>
<g font-family='"Liberation Sans", "Noto Sans CJK SC", sans-serif' font-size="13.35" fill="#0c0c0c" text-anchor="end">
<text transform="rotate(0.04 381.6 752.8)" x="381.6" y="752.8">response to lipopolysaccharide</text>
<text transform="rotate(0.04 381.6 774.3)" x="381.6" y="774.3">response to drug</text>
<text transform="rotate(0.04 381.6 795.9)" x="381.6" y="795.9">response to molecule of bacterial origin</text>
<text transform="rotate(0.04 381.6 817.5)" x="381.6" y="817.5">cellular response to chemical stress</text>
<text transform="rotate(0.04 381.6 839.1)" x="381.6" y="839.1">reactive oxygen species metabolic process</text>
<text transform="rotate(0.04 381.6 860.7)" x="381.6" y="860.7">response to reactive oxygen species</text>
<text transform="rotate(0.04 381.6 882.3)" x="381.6" y="882.3">response to oxygen levels</text>
<text transform="rotate(0.04 381.6 903.9)" x="381.6" y="903.9">response to metal ion</text>
<text transform="rotate(0.04 381.6 925.5)" x="381.6" y="925.5">response to steroid hormone</text>
<text transform="rotate(0.04 381.6 947.1)" x="381.6" y="947.1">response to nutrient levels</text>
<text transform="rotate(0.04 381.6 968.7)" x="381.6" y="968.7">membrane raft</text>
<text transform="rotate(0.04 381.6 990.3)" x="381.6" y="990.3">membrane microdomain</text>
<text transform="rotate(0.04 381.6 1011.9)" x="381.6" y="1011.9">membrane region</text>
<text transform="rotate(0.04 381.6 1033.5)" x="381.6" y="1033.5">postsynaptic membrane</text>
<text transform="rotate(0.04 381.6 1055.1)" x="381.6" y="1055.1">integral component of postsynaptic membrane</text>
<text transform="rotate(0.04 381.6 1076.7)" x="381.6" y="1076.7">integral component of presynaptic membrane</text>
<text transform="rotate(0.04 381.6 1098.3)" x="381.6" y="1098.3">intrinsic component of postsynaptic membrane</text>
<text transform="rotate(0.04 381.6 1119.9)" x="381.6" y="1119.9">caveola</text>
<text transform="rotate(0.04 381.6 1141.5)" x="381.6" y="1141.5">intrinsic component of presynaptic membrane</text>
<text transform="rotate(0.04 381.6 1163.1)" x="381.6" y="1163.1">plasma membrane raft</text>
<text transform="rotate(0.04 381.6 1184.7)" x="381.6" y="1184.7">DNA−binding transcription factor binding</text>
<text transform="rotate(0.04 381.6 1199.7)" x="381.6" y="1199.7">RNA polymerase II−specific DNA−binding transcription factor</text>
<text transform="rotate(0.04 381.6 1212.9)" x="381.6" y="1212.9">binding</text>
<text transform="rotate(0.04 381.6 1227.9)" x="381.6" y="1227.9">nuclear receptor activity</text>
<text transform="rotate(0.04 381.6 1249.5)" x="381.6" y="1249.5">ligand−activated transcription factor activity</text>
<text transform="rotate(0.04 381.6 1271.1)" x="381.6" y="1271.1">neurotransmitter receptor activity</text>
<text transform="rotate(0.04 381.6 1292.7)" x="381.6" y="1292.7">G protein−coupled amine receptor activity</text>
<text transform="rotate(0.04 381.6 1314.3)" x="381.6" y="1314.3">steroid hormone receptor activity</text>
<text transform="rotate(0.04 381.6 1335.9)" x="381.6" y="1335.9">cytokine receptor binding</text>
<text transform="rotate(0.04 381.6 1357.5)" x="381.6" y="1357.5">postsynaptic neurotransmitter receptor activity</text>
<text transform="rotate(0.04 381.6 1379.1)" x="381.6" y="1379.1">cytokine activity</text>
</g>
<g font-family='"Liberation Sans", "Noto Sans CJK SC", sans-serif' font-size="14.1" fill="#0c0c0c" text-anchor="middle">
<text transform="rotate(0.04 389.3 1405.3)" x="389.3" y="1405.3">0</text>
<text transform="rotate(0.04 571.8 1405.3)" x="571.8" y="1405.3">10</text>
<text transform="rotate(0.04 754.3 1405.3)" x="754.3" y="1405.3">20</text>
<text transform="rotate(0.04 936.8 1405.3)" x="936.8" y="1405.3">30</text>
</g>
<text transform="rotate(0.04 737.7 1430.1)" x="737.7" y="1430.1" font-family='"Liberation Sans", "Noto Sans CJK SC", sans-serif' font-size="29.8" text-anchor="middle" fill="#000">Enrichment Score</text>
<rect x="1013.7" y="738.4" width="74.0" height="84" fill="#fff" stroke="#000" stroke-width="1.6"/>
<rect x="1023.1" y="754.5" width="27.7" height="18.5" fill="#d6673c"/>
<text transform="rotate(0.04 1059.9 768.4)" x="1059.9" y="768.4" font-family='"Liberation Sans", "Noto Sans CJK SC", sans-serif' font-size="13" fill="#000">BP</text>
<rect x="1023.1" y="775.0" width="27.7" height="18.5" fill="#5d9c6e"/>
<text transform="rotate(0.04 1059.9 788.9)" x="1059.9" y="788.9" font-family='"Liberation Sans", "Noto Sans CJK SC", sans-serif' font-size="13" fill="#000">CC</text>
<rect x="1023.1" y="795.5" width="27.7" height="18.5" fill="#3d3b76"/>
<text transform="rotate(0.04 1059.9 809.4)" x="1059.9" y="809.4" font-family='"Liberation Sans", "Noto Sans CJK SC", sans-serif' font-size="13" fill="#000">MF</text>
</g>
<defs><linearGradient id="pv" x1="0" y1="0" x2="0" y2="1"><stop offset="0" stop-color="#1400ff"/><stop offset="0.12" stop-color="#4a00ee"/><stop offset="0.25" stop-color="#6c00d6"/><stop offset="0.37" stop-color="#8600be"/><stop offset="0.5" stop-color="#9e00a2"/><stop offset="0.62" stop-color="#b20086"/><stop offset="0.75" stop-color="#c4005e"/><stop offset="0.87" stop-color="#d20036"/><stop offset="1" stop-color="#e2000a"/></linearGradient><clipPath id="ce"><rect x="1432.5" y="750.6" width="184.7" height="617.2"/></clipPath></defs>
<g id="dotE" font-family='"Liberation Sans", "Noto Sans CJK SC", sans-serif'>
<text transform="translate(1524.7 735.5) rotate(0.04) scale(0.740 1)" font-size="27.7" text-anchor="middle" fill="#000">Pathway Analysis</text>
<path d="M1460.7 750.6V1367.8M1514.3 750.6V1367.8M1568.0 750.6V1367.8" stroke="#000" stroke-width="1" stroke-dasharray="1.2 2.4" fill="none"/>
<path d="M1432.5 785.90H1617.2M1432.5 846.73H1617.2M1432.5 907.56H1617.2M1432.5 968.39H1617.2M1432.5 1029.22H1617.2M1432.5 1090.05H1617.2M1432.5 1150.88H1617.2M1432.5 1211.71H1617.2M1432.5 1272.54H1617.2M1432.5 1333.37H1617.2" stroke="#000" stroke-width="1.2" stroke-dasharray="1.1 1.7" fill="none"/>
<g clip-path="url(#ce)">
<ellipse cx="1605.2" cy="785.90" rx="11.3" ry="15.0" fill="#dd0508"/>
<ellipse cx="1603.8" cy="846.73" rx="8.4" ry="11.1" fill="#dd0508"/>
<ellipse cx="1552.8" cy="907.56" rx="8.7" ry="11.3" fill="#dd0508"/>
<ellipse cx="1495.2" cy="968.39" rx="4.9" ry="6.4" fill="#dd0508"/>
<ellipse cx="1489.5" cy="1029.22" rx="8.0" ry="10.4" fill="#dd0508"/>
<ellipse cx="1482.3" cy="1090.05" rx="3.0" ry="3.9" fill="#dd0508"/>
<ellipse cx="1469.4" cy="1150.88" rx="8.4" ry="10.9" fill="#dd0508"/>
<ellipse cx="1451.9" cy="1211.71" rx="3.2" ry="4.2" fill="#d8143f"/>
<ellipse cx="1444.3" cy="1272.54" rx="8.0" ry="10.4" fill="#8a10c2"/>
<ellipse cx="1442.4" cy="1333.37" rx="7.2" ry="9.4" fill="#1212f5"/>
</g>
<path d="M1432.5 749.2V1369.8M1617.2 749.2V1369.8" fill="none" stroke="#000" stroke-width="1.5"/>
<path d="M1432.5 750.6H1617.2M1432.5 1368.5H1617.2" fill="none" stroke="#000" stroke-width="2.8"/>
<path d="M1487.5 748.6v4M1487.5 1366.5v4M1541.2 748.6v4M1541.2 1366.5v4M1594.8 748.6v4M1594.8 1366.5v4" fill="none" stroke="#fff" stroke-width="1"/>
<path d="M1427.2 785.90H1432.5M1427.2 846.73H1432.5M1427.2 907.56H1432.5M1427.2 968.39H1432.5M1427.2 1029.22H1432.5M1427.2 1090.05H1432.5M1427.2 1150.88H1432.5M1427.2 1211.71H1432.5M1427.2 1272.54H1432.5M1427.2 1333.37H1432.5M1460.7 1367.8V1375.8M1514.3 1367.8V1375.8M1568.0 1367.8V1375.8" stroke="#000" stroke-width="1.9" fill="none"/>
<text transform="translate(1423.3 792.6) rotate(0.04) scale(0.740 1)" font-size="19.1" text-anchor="end" fill="#000">Lipid and atherosclerosis</text>
<text transform="translate(1423.3 853.4) rotate(0.04) scale(0.740 1)" font-size="19.1" text-anchor="end" fill="#000">-RAGE signaling pathway in diabetic complications</text>
<text transform="translate(1423.3 914.3) rotate(0.04) scale(0.740 1)" font-size="19.1" text-anchor="end" fill="#000">Fluid shear stress and atherosclerosis</text>
<text transform="translate(1423.3 975.1) rotate(0.04) scale(0.740 1)" font-size="19.1" text-anchor="end" fill="#000">Prostate cancer</text>
<text transform="translate(1423.3 1035.9) rotate(0.04) scale(0.740 1)" font-size="19.1" text-anchor="end" fill="#000">Hepatitis B</text>
<text transform="translate(1423.3 1096.8) rotate(0.04) scale(0.740 1)" font-size="19.1" text-anchor="end" fill="#000">IL−17 signaling pathway</text>
<text transform="translate(1423.3 1157.6) rotate(0.04) scale(0.740 1)" font-size="19.1" text-anchor="end" fill="#000">Chemical carcinogenesis − receptor activation</text>
<text transform="translate(1423.3 1218.4) rotate(0.04) scale(0.740 1)" font-size="19.1" text-anchor="end" fill="#000">TNF signaling pathway</text>
<text transform="translate(1423.3 1279.2) rotate(0.04) scale(0.740 1)" font-size="19.1" text-anchor="end" fill="#000">Human cytomegalovirus infection</text>
<text transform="translate(1423.3 1340.1) rotate(0.04) scale(0.740 1)" font-size="19.1" text-anchor="end" fill="#000">Kaposi sarcoma−associated herpesvirus infection</text>
<text transform="translate(1460.7 1394.3) rotate(0.04) scale(0.740 1)" font-size="19.0" text-anchor="middle" fill="#000">20</text>
<text transform="translate(1514.3 1394.3) rotate(0.04) scale(0.740 1)" font-size="19.0" text-anchor="middle" fill="#000">24</text>
<text transform="translate(1568.0 1394.3) rotate(0.04) scale(0.740 1)" font-size="19.0" text-anchor="middle" fill="#000">28</text>
<text transform="translate(1524.7 1420.4) rotate(0.04) scale(0.740 1)" font-size="23.3" text-anchor="middle" fill="#000">EnrichmentScore (−log10(pvalue))</text>
<text transform="translate(1643.8 859.6) rotate(0.04) scale(0.740 1)" font-size="23.2" text-anchor="start" fill="#000">Count</text>
<rect x="1643.8" y="873.5" width="26.6" height="145.3" fill="#f2f2f2"/>
<ellipse cx="1657.1" cy="892.0" rx="3.0" ry="3.8" fill="#000"/>
<text transform="translate(1679.1 898.6) rotate(0.04) scale(0.740 1)" font-size="19.0" text-anchor="start" fill="#000">25</text>
<ellipse cx="1657.1" cy="928.3" rx="7.6" ry="9.9" fill="#000"/>
<text transform="translate(1679.1 934.9) rotate(0.04) scale(0.740 1)" font-size="19.0" text-anchor="start" fill="#000">30</text>
<ellipse cx="1657.1" cy="964.6" rx="9.1" ry="11.8" fill="#000"/>
<text transform="translate(1679.1 971.2) rotate(0.04) scale(0.740 1)" font-size="19.0" text-anchor="start" fill="#000">35</text>
<ellipse cx="1657.1" cy="1000.9" rx="10.6" ry="14.0" fill="#000"/>
<text transform="translate(1679.1 1007.5) rotate(0.04) scale(0.740 1)" font-size="19.0" text-anchor="start" fill="#000">40</text>
<text transform="translate(1643.8 1083.3) rotate(0.04) scale(0.740 1)" font-size="23.2" text-anchor="start" fill="#000">pvalue</text>
<rect x="1643.8" y="1098.3" width="26.6" height="180.1" fill="url(#pv)"/>
<text transform="translate(1679.1 1106.0) rotate(0.04) scale(0.740 1)" font-size="19.0" text-anchor="start" fill="#000">2.201821e−19</text>
<text transform="translate(1679.1 1150.4) rotate(0.04) scale(0.740 1)" font-size="19.0" text-anchor="start" fill="#000">1.651366e−19</text>
<text transform="translate(1679.1 1195.1) rotate(0.04) scale(0.740 1)" font-size="19.0" text-anchor="start" fill="#000">1.100911e−19</text>
<text transform="translate(1679.1 1240.6) rotate(0.04) scale(0.740 1)" font-size="19.0" text-anchor="start" fill="#000">5.504553e−20</text>
<text transform="translate(1679.1 1285.0) rotate(0.04) scale(0.740 1)" font-size="19.0" text-anchor="start" fill="#000">1.757741e−31</text>
<path d="M1643.8 1099.4h5.3M1670.4 1099.4h-5.3M1643.8 1143.8h5.3M1670.4 1143.8h-5.3M1643.8 1188.5h5.3M1670.4 1188.5h-5.3M1643.8 1234.0h5.3M1670.4 1234.0h-5.3M1643.8 1278.4h5.3M1670.4 1278.4h-5.3" stroke="#fff" stroke-width="1" fill="none"/>
</g>
<g font-family='"Liberation Serif", "Noto Serif CJK SC", serif' font-size="48" fill="#000">
<text transform="rotate(0.04 1.6 34.1)" x="1.6" y="34.1">A</text>
<text transform="rotate(0.04 440.8 34.1)" x="440.8" y="34.1">B</text>
<text transform="rotate(0.04 1086.6 34.1)" x="1086.6" y="34.1">C</text>
<text transform="rotate(0.04 1.9 667)" x="1.9" y="667">D</text>
<text transform="rotate(0.04 1121.4 667)" x="1121.4" y="667">E</text>
</g>
</svg>
</body></html>
